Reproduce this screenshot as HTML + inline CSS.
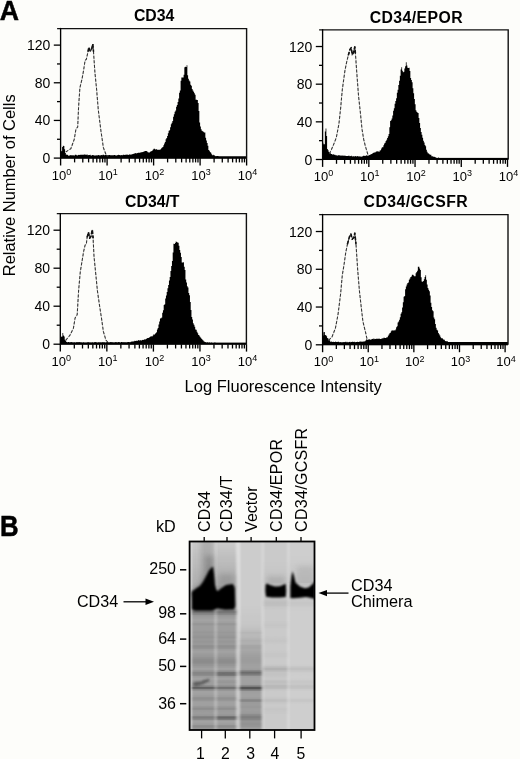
<!DOCTYPE html>
<html><head><meta charset="utf-8"><style>
html,body{margin:0;padding:0;background:#fdfdfa;}
body{width:520px;height:759px;position:relative;overflow:hidden;font-family:"Liberation Sans", sans-serif;}
</style></head><body>
<svg width="520" height="759" viewBox="0 0 520 759" style="position:absolute;left:0;top:0;will-change:transform">
<defs><filter id="b1" x="-50%" y="-50%" width="200%" height="200%"><feGaussianBlur stdDeviation="1.2"/></filter><filter id="b2" x="-50%" y="-50%" width="200%" height="200%"><feGaussianBlur stdDeviation="2.5"/></filter><filter id="b3" x="-50%" y="-50%" width="200%" height="200%"><feGaussianBlur stdDeviation="0.6"/></filter><filter id="b4" x="-50%" y="-50%" width="200%" height="200%"><feGaussianBlur stdDeviation="1.0"/></filter></defs>
<text transform="translate(-0.2,19.8) scale(0.97,1.02)" font-size="27.5" font-weight="bold" stroke="#000" stroke-width="0.5" font-family='"Liberation Sans", sans-serif' fill="#000">A</text>
<text transform="translate(0,536.2) scale(0.92,1.03)" font-size="28" font-weight="bold" stroke="#000" stroke-width="0.5" font-family='"Liberation Sans", sans-serif' fill="#000">B</text>
<g><path d="M60.6 158.4 L60.6 150.68 L61.35 150.68 L61.35 151.16 L62.1 151.16 L62.1 146.98 L62.85 146.98 L62.85 145.83 L63.6 145.83 L63.6 145.99 L64.35 145.99 L64.35 149.35 L65.1 149.35 L65.1 153.06 L65.85 153.06 L65.85 154.63 L66.6 154.63 L66.6 154.56 L67.35 154.56 L67.35 155 L68.1 155 L68.1 155.71 L68.85 155.71 L68.85 155.38 L69.6 155.38 L69.6 155.59 L70.35 155.59 L70.35 155.01 L71.1 155.01 L71.1 155.3 L71.85 155.3 L71.85 155.46 L72.6 155.46 L72.6 155.08 L73.35 155.08 L73.35 155.56 L74.1 155.56 L74.1 155.5 L74.85 155.5 L74.85 154.84 L75.6 154.84 L75.6 154.8 L76.35 154.8 L76.35 155.15 L77.1 155.15 L77.1 155.4 L77.85 155.4 L77.85 154.97 L78.6 154.97 L78.6 154.82 L79.35 154.82 L79.35 154.94 L80.1 154.94 L80.1 154.63 L80.85 154.63 L80.85 154.74 L81.6 154.74 L81.6 154.86 L82.35 154.86 L82.35 154.87 L83.1 154.87 L83.1 154.65 L83.85 154.65 L83.85 154.62 L84.6 154.62 L84.6 154.6 L85.35 154.6 L85.35 154.79 L86.1 154.79 L86.1 154.7 L86.85 154.7 L86.85 154.55 L87.6 154.55 L87.6 155.17 L88.35 155.17 L88.35 155.01 L89.1 155.01 L89.1 155.11 L89.85 155.11 L89.85 154.81 L90.6 154.81 L90.6 155.44 L91.35 155.44 L91.35 155.38 L92.1 155.38 L92.1 154.88 L92.85 154.88 L92.85 155.07 L93.6 155.07 L93.6 155.39 L94.35 155.39 L94.35 155.42 L95.1 155.42 L95.1 155.59 L95.85 155.59 L95.85 155.2 L96.6 155.2 L96.6 155.47 L97.35 155.47 L97.35 155.33 L98.1 155.33 L98.1 155.04 L98.85 155.04 L98.85 155.22 L99.6 155.22 L99.6 155.41 L100.35 155.41 L100.35 155.36 L101.1 155.36 L101.1 155.1 L101.85 155.1 L101.85 155.14 L102.6 155.14 L102.6 154.72 L103.35 154.72 L103.35 154.84 L104.1 154.84 L104.1 155.22 L104.85 155.22 L104.85 154.94 L105.6 154.94 L105.6 154.78 L106.35 154.78 L106.35 155.08 L107.1 155.08 L107.1 155.21 L107.85 155.21 L107.85 155.21 L108.6 155.21 L108.6 155.02 L109.35 155.02 L109.35 155.09 L110.1 155.09 L110.1 155.16 L110.85 155.16 L110.85 155.37 L111.6 155.37 L111.6 155.21 L112.35 155.21 L112.35 155.14 L113.1 155.14 L113.1 155.24 L113.85 155.24 L113.85 154.93 L114.6 154.93 L114.6 154.96 L115.35 154.96 L115.35 155.39 L116.1 155.39 L116.1 155.56 L116.85 155.56 L116.85 155.24 L117.6 155.24 L117.6 155.06 L118.35 155.06 L118.35 154.86 L119.1 154.86 L119.1 155.06 L119.85 155.06 L119.85 155.37 L120.6 155.37 L120.6 155.18 L121.35 155.18 L121.35 154.97 L122.1 154.97 L122.1 155.17 L122.85 155.17 L122.85 154.68 L123.6 154.68 L123.6 154.84 L124.35 154.84 L124.35 155.12 L125.1 155.12 L125.1 154.81 L125.85 154.81 L125.85 154.67 L126.6 154.67 L126.6 154.49 L127.35 154.49 L127.35 154.65 L128.1 154.65 L128.1 154.9 L128.85 154.9 L128.85 154.16 L129.6 154.16 L129.6 154.65 L130.35 154.65 L130.35 154.54 L131.1 154.54 L131.1 154.44 L131.85 154.44 L131.85 154.17 L132.6 154.17 L132.6 154.08 L133.35 154.08 L133.35 153.69 L134.1 153.69 L134.1 153.58 L134.85 153.58 L134.85 153.35 L135.6 153.35 L135.6 152.94 L136.35 152.94 L136.35 153.45 L137.1 153.45 L137.1 153.1 L137.85 153.1 L137.85 152.69 L138.6 152.69 L138.6 152.81 L139.35 152.81 L139.35 152.66 L140.1 152.66 L140.1 152.38 L140.85 152.38 L140.85 152.19 L141.6 152.19 L141.6 152.16 L142.35 152.16 L142.35 152.05 L143.1 152.05 L143.1 151.86 L143.85 151.86 L143.85 151.55 L144.6 151.55 L144.6 151.02 L145.35 151.02 L145.35 151 L146.1 151 L146.1 150.93 L146.85 150.93 L146.85 151.61 L147.6 151.61 L147.6 152.24 L148.35 152.24 L148.35 152.56 L149.1 152.56 L149.1 152.56 L149.85 152.56 L149.85 152.12 L150.6 152.12 L150.6 151.06 L151.35 151.06 L151.35 151.17 L152.1 151.17 L152.1 150.51 L152.85 150.51 L152.85 149.42 L153.6 149.42 L153.6 148.87 L154.35 148.87 L154.35 148.87 L155.1 148.87 L155.1 149.52 L155.85 149.52 L155.85 149.27 L156.6 149.27 L156.6 149.33 L157.35 149.33 L157.35 149.91 L158.1 149.91 L158.1 149.85 L158.85 149.85 L158.85 149.8 L159.6 149.8 L159.6 149.75 L160.35 149.75 L160.35 149.33 L161.1 149.33 L161.1 148.15 L161.85 148.15 L161.85 147.53 L162.6 147.53 L162.6 147.09 L163.35 147.09 L163.35 145.22 L164.1 145.22 L164.1 143.5 L164.85 143.5 L164.85 142.11 L165.6 142.11 L165.6 139.16 L166.35 139.16 L166.35 137.89 L167.1 137.89 L167.1 135.89 L167.85 135.89 L167.85 133.15 L168.6 133.15 L168.6 130.75 L169.35 130.75 L169.35 130.25 L170.1 130.25 L170.1 127.17 L170.85 127.17 L170.85 124.2 L171.6 124.2 L171.6 122.78 L172.35 122.78 L172.35 120.95 L173.1 120.95 L173.1 116.85 L173.85 116.85 L173.85 114.14 L174.6 114.14 L174.6 111.84 L175.35 111.84 L175.35 110.62 L176.1 110.62 L176.1 106.64 L176.85 106.64 L176.85 105.05 L177.6 105.05 L177.6 101.98 L178.35 101.98 L178.35 98.62 L179.1 98.62 L179.1 92.68 L179.85 92.68 L179.85 90.41 L180.6 90.41 L180.6 80.7 L181.35 80.7 L181.35 77.54 L182.1 77.54 L182.1 77.38 L182.85 77.38 L182.85 77.6 L183.6 77.6 L183.6 74.75 L184.35 74.75 L184.35 67.28 L185.1 67.28 L185.1 66.87 L185.85 66.87 L185.85 67.09 L186.6 67.09 L186.6 65.37 L187.35 65.37 L187.35 75.28 L188.1 75.28 L188.1 78.64 L188.85 78.64 L188.85 80.52 L189.6 80.52 L189.6 81.45 L190.35 81.45 L190.35 84.77 L191.1 84.77 L191.1 85.77 L191.85 85.77 L191.85 89.02 L192.6 89.02 L192.6 90.51 L193.35 90.51 L193.35 91.73 L194.1 91.73 L194.1 93.22 L194.85 93.22 L194.85 94.67 L195.6 94.67 L195.6 99.69 L196.35 99.69 L196.35 99.67 L197.1 99.67 L197.1 100.09 L197.85 100.09 L197.85 103.04 L198.6 103.04 L198.6 111.05 L199.35 111.05 L199.35 122.42 L200.1 122.42 L200.1 126.59 L200.85 126.59 L200.85 129.27 L201.6 129.27 L201.6 130.74 L202.35 130.74 L202.35 131.26 L203.1 131.26 L203.1 131.85 L203.85 131.85 L203.85 132.57 L204.6 132.57 L204.6 132.59 L205.35 132.59 L205.35 137.65 L206.1 137.65 L206.1 140.53 L206.85 140.53 L206.85 142.97 L207.6 142.97 L207.6 145.73 L208.35 145.73 L208.35 150.06 L209.1 150.06 L209.1 150.86 L209.85 150.86 L209.85 152.03 L210.6 152.03 L210.6 152.71 L211.35 152.71 L211.35 154.34 L212.1 154.34 L212.1 155.15 L212.85 155.15 L212.85 154.76 L213.6 154.76 L213.6 155.16 L214.35 155.16 L214.35 155.51 L215.1 155.51 L215.1 156.28 L215.85 156.28 L215.85 156.22 L216.6 156.22 L216.6 155.94 L217.35 155.94 L217.35 155.88 L218.1 155.88 L218.1 156.24 L218.85 156.24 L218.85 156.39 L219.6 156.39 L219.6 156.49 L220 156.49 L246.6 156.49 L246.6 158.4 Z" fill="#000"/><rect x="60.6" y="156.5" width="186" height="2.1" fill="#000"/><path d="M65.7 152 L70.9 148.6 L74.3 139.1 L76 128.9 L77.7 127.1 L78.6 106.6 L79.9 87.7 L82 79.1 L83.7 69.7 L85.1 60.3 L86.3 59.4 L88 51.7 L88.9 47.4 L90.2 50.9 L91.4 50 L92.8 44 L93.5 51.7 L94.9 72.3 L96.6 89.4 L98.3 110 L100.9 130.6 L103.4 147.7 L106 154.6 L107.7 156.3" fill="none" stroke="#888" stroke-width="0.8" opacity="0.5"/><path d="M65.7 152 L70.9 148.6 L74.3 139.1 L76 128.9 L77.7 127.1 L78.6 106.6 L79.9 87.7 L82 79.1 L83.7 69.7 L85.1 60.3 L86.3 59.4 L88 51.7 L88.9 47.4 L90.2 50.9 L91.4 50 L92.8 44 L93.5 51.7 L94.9 72.3 L96.6 89.4 L98.3 110 L100.9 130.6 L103.4 147.7 L106 154.6 L107.7 156.3" fill="none" stroke="#333" stroke-width="1.05" stroke-dasharray="3 1.6"/><path d="M88 51.7 L88.9 47.4 L90.2 50.9 L91.4 50 L92.8 44 L93.5 51.7" fill="none" stroke="#111" stroke-width="1.6" stroke-dasharray="3.5 1.8" stroke-linejoin="round"/><path d="M57.1 28.6 H246.6 V158.1" fill="none" stroke="#111" stroke-width="1.4"/><path d="M60.6 27.9 V158.6" fill="none" stroke="#000" stroke-width="1.35"/><path d="M53.8 158.1 H60.6" stroke="#000" stroke-width="1.3"/><text x="50.4" y="163.1" font-size="14" text-anchor="end" font-family='"Liberation Sans", sans-serif' fill="#000">0</text><path d="M57 139.27 H60.6" stroke="#000" stroke-width="1.3"/><path d="M53.8 120.44 H60.6" stroke="#000" stroke-width="1.3"/><text x="50.4" y="125.44" font-size="14" text-anchor="end" font-family='"Liberation Sans", sans-serif' fill="#000">40</text><path d="M57 101.61 H60.6" stroke="#000" stroke-width="1.3"/><path d="M53.8 82.78 H60.6" stroke="#000" stroke-width="1.3"/><text x="50.4" y="87.78" font-size="14" text-anchor="end" font-family='"Liberation Sans", sans-serif' fill="#000">80</text><path d="M57 63.95 H60.6" stroke="#000" stroke-width="1.3"/><path d="M53.8 45.12 H60.6" stroke="#000" stroke-width="1.3"/><text x="50.4" y="50.12" font-size="14" text-anchor="end" font-family='"Liberation Sans", sans-serif' fill="#000">120</text><path d="M60.6 158.1 V165.5" stroke="#000" stroke-width="1.35"/><path d="M74.6 158.1 V162.4" stroke="#000" stroke-width="1.3"/><path d="M82.79 158.1 V162.4" stroke="#000" stroke-width="1.3"/><path d="M88.6 158.1 V162.4" stroke="#000" stroke-width="1.3"/><path d="M93.1 158.1 V162.4" stroke="#000" stroke-width="1.3"/><path d="M96.78 158.1 V162.4" stroke="#000" stroke-width="1.3"/><path d="M99.9 158.1 V162.4" stroke="#000" stroke-width="1.3"/><path d="M102.59 158.1 V162.4" stroke="#000" stroke-width="1.3"/><path d="M104.97 158.1 V162.4" stroke="#000" stroke-width="1.3"/><text x="61.6" y="179.6" font-size="13" text-anchor="middle" font-family='"Liberation Sans", sans-serif' fill="#000">10<tspan font-size="9" dy="-4.6">0</tspan></text><path d="M107.1 158.1 V165.5" stroke="#000" stroke-width="1.35"/><path d="M121.1 158.1 V162.4" stroke="#000" stroke-width="1.3"/><path d="M129.29 158.1 V162.4" stroke="#000" stroke-width="1.3"/><path d="M135.1 158.1 V162.4" stroke="#000" stroke-width="1.3"/><path d="M139.6 158.1 V162.4" stroke="#000" stroke-width="1.3"/><path d="M143.28 158.1 V162.4" stroke="#000" stroke-width="1.3"/><path d="M146.4 158.1 V162.4" stroke="#000" stroke-width="1.3"/><path d="M149.09 158.1 V162.4" stroke="#000" stroke-width="1.3"/><path d="M151.47 158.1 V162.4" stroke="#000" stroke-width="1.3"/><text x="108.1" y="179.6" font-size="13" text-anchor="middle" font-family='"Liberation Sans", sans-serif' fill="#000">10<tspan font-size="9" dy="-4.6">1</tspan></text><path d="M153.6 158.1 V165.5" stroke="#000" stroke-width="1.35"/><path d="M167.6 158.1 V162.4" stroke="#000" stroke-width="1.3"/><path d="M175.79 158.1 V162.4" stroke="#000" stroke-width="1.3"/><path d="M181.6 158.1 V162.4" stroke="#000" stroke-width="1.3"/><path d="M186.1 158.1 V162.4" stroke="#000" stroke-width="1.3"/><path d="M189.78 158.1 V162.4" stroke="#000" stroke-width="1.3"/><path d="M192.9 158.1 V162.4" stroke="#000" stroke-width="1.3"/><path d="M195.59 158.1 V162.4" stroke="#000" stroke-width="1.3"/><path d="M197.97 158.1 V162.4" stroke="#000" stroke-width="1.3"/><text x="154.6" y="179.6" font-size="13" text-anchor="middle" font-family='"Liberation Sans", sans-serif' fill="#000">10<tspan font-size="9" dy="-4.6">2</tspan></text><path d="M200.1 158.1 V165.5" stroke="#000" stroke-width="1.35"/><path d="M214.1 158.1 V162.4" stroke="#000" stroke-width="1.3"/><path d="M222.29 158.1 V162.4" stroke="#000" stroke-width="1.3"/><path d="M228.1 158.1 V162.4" stroke="#000" stroke-width="1.3"/><path d="M232.6 158.1 V162.4" stroke="#000" stroke-width="1.3"/><path d="M236.28 158.1 V162.4" stroke="#000" stroke-width="1.3"/><path d="M239.4 158.1 V162.4" stroke="#000" stroke-width="1.3"/><path d="M242.09 158.1 V162.4" stroke="#000" stroke-width="1.3"/><path d="M244.47 158.1 V162.4" stroke="#000" stroke-width="1.3"/><text x="201.1" y="179.6" font-size="13" text-anchor="middle" font-family='"Liberation Sans", sans-serif' fill="#000">10<tspan font-size="9" dy="-4.6">3</tspan></text><path d="M246.6 158.1 V165.5" stroke="#000" stroke-width="1.35"/><text x="247.6" y="179.6" font-size="13" text-anchor="middle" font-family='"Liberation Sans", sans-serif' fill="#000">10<tspan font-size="9" dy="-4.6">4</tspan></text><text x="154.1" y="21.2" font-size="15.8" font-weight="bold" text-anchor="middle" letter-spacing="0" font-family='"Liberation Sans", sans-serif' fill="#000">CD34</text></g>
<g><path d="M322.6 159.8 L322.6 142.84 L323.35 142.84 L323.35 144.17 L324.1 144.17 L324.1 144.22 L324.85 144.22 L324.85 131.61 L325.6 131.61 L325.6 128.52 L326.35 128.52 L326.35 136.07 L327.1 136.07 L327.1 148.94 L327.85 148.94 L327.85 150.14 L328.6 150.14 L328.6 152.02 L329.35 152.02 L329.35 152.72 L330.1 152.72 L330.1 153.27 L330.85 153.27 L330.85 153.88 L331.6 153.88 L331.6 153.93 L332.35 153.93 L332.35 154.72 L333.1 154.72 L333.1 154.33 L333.85 154.33 L333.85 154.7 L334.6 154.7 L334.6 154.79 L335.35 154.79 L335.35 155.15 L336.1 155.15 L336.1 155.28 L336.85 155.28 L336.85 155.66 L337.6 155.66 L337.6 155.32 L338.35 155.32 L338.35 155.16 L339.1 155.16 L339.1 155.29 L339.85 155.29 L339.85 155.85 L340.6 155.85 L340.6 155.21 L341.35 155.21 L341.35 155.65 L342.1 155.65 L342.1 155.52 L342.85 155.52 L342.85 155.76 L343.6 155.76 L343.6 155.56 L344.35 155.56 L344.35 155.86 L345.1 155.86 L345.1 155.75 L345.85 155.75 L345.85 155.9 L346.6 155.9 L346.6 156.12 L347.35 156.12 L347.35 155.93 L348.1 155.93 L348.1 155.65 L348.85 155.65 L348.85 155.63 L349.6 155.63 L349.6 156.3 L350.35 156.3 L350.35 156.01 L351.1 156.01 L351.1 155.83 L351.85 155.83 L351.85 156.42 L352.6 156.42 L352.6 156.19 L353.35 156.19 L353.35 156.33 L354.1 156.33 L354.1 156.48 L354.85 156.48 L354.85 156.09 L355.6 156.09 L355.6 156.18 L356.35 156.18 L356.35 156.59 L357.1 156.59 L357.1 156.09 L357.85 156.09 L357.85 156.58 L358.6 156.58 L358.6 156.14 L359.35 156.14 L359.35 156.6 L360.1 156.6 L360.1 156.56 L360.85 156.56 L360.85 156.66 L361.6 156.66 L361.6 156.49 L362.35 156.49 L362.35 156.15 L363.1 156.15 L363.1 155.84 L363.85 155.84 L363.85 155.72 L364.6 155.72 L364.6 155.92 L365.35 155.92 L365.35 155.82 L366.1 155.82 L366.1 155.35 L366.85 155.35 L366.85 155.87 L367.6 155.87 L367.6 155.43 L368.35 155.43 L368.35 155.45 L369.1 155.45 L369.1 154.94 L369.85 154.94 L369.85 154.83 L370.6 154.83 L370.6 154.16 L371.35 154.16 L371.35 153.96 L372.1 153.96 L372.1 153.38 L372.85 153.38 L372.85 153.03 L373.6 153.03 L373.6 152.48 L374.35 152.48 L374.35 152.45 L375.1 152.45 L375.1 152.18 L375.85 152.18 L375.85 151.47 L376.6 151.47 L376.6 151.52 L377.35 151.52 L377.35 151.23 L378.1 151.23 L378.1 151.5 L378.85 151.5 L378.85 151.63 L379.6 151.63 L379.6 150.45 L380.35 150.45 L380.35 150.17 L381.1 150.17 L381.1 148.61 L381.85 148.61 L381.85 147.28 L382.6 147.28 L382.6 147.22 L383.35 147.22 L383.35 145.23 L384.1 145.23 L384.1 143.59 L384.85 143.59 L384.85 142.66 L385.6 142.66 L385.6 140.97 L386.35 140.97 L386.35 139.78 L387.1 139.78 L387.1 138.07 L387.85 138.07 L387.85 136.25 L388.6 136.25 L388.6 134.06 L389.35 134.06 L389.35 127.3 L390.1 127.3 L390.1 121.1 L390.85 121.1 L390.85 120.33 L391.6 120.33 L391.6 118.61 L392.35 118.61 L392.35 115.39 L393.1 115.39 L393.1 110.84 L393.85 110.84 L393.85 108.34 L394.6 108.34 L394.6 103.79 L395.35 103.79 L395.35 100.89 L396.1 100.89 L396.1 98.2 L396.85 98.2 L396.85 92.68 L397.6 92.68 L397.6 89.71 L398.35 89.71 L398.35 84.97 L399.1 84.97 L399.1 80.75 L399.85 80.75 L399.85 75.67 L400.6 75.67 L400.6 69.55 L401.35 69.55 L401.35 67.24 L402.1 67.24 L402.1 70.85 L402.85 70.85 L402.85 72.15 L403.6 72.15 L403.6 71.87 L404.35 71.87 L404.35 68.6 L405.1 68.6 L405.1 66.15 L405.85 66.15 L405.85 62.34 L406.6 62.34 L406.6 65.6 L407.35 65.6 L407.35 67.72 L408.1 67.72 L408.1 68.01 L408.85 68.01 L408.85 67.66 L409.6 67.66 L409.6 71.02 L410.35 71.02 L410.35 78.08 L411.1 78.08 L411.1 79.99 L411.85 79.99 L411.85 82.21 L412.6 82.21 L412.6 88.33 L413.35 88.33 L413.35 93.28 L414.1 93.28 L414.1 99.01 L414.85 99.01 L414.85 104.34 L415.6 104.34 L415.6 110.15 L416.35 110.15 L416.35 111.79 L417.1 111.79 L417.1 112.61 L417.85 112.61 L417.85 113.05 L418.6 113.05 L418.6 117.91 L419.35 117.91 L419.35 123.04 L420.1 123.04 L420.1 128.02 L420.85 128.02 L420.85 132.02 L421.6 132.02 L421.6 134.85 L422.35 134.85 L422.35 137.79 L423.1 137.79 L423.1 140.64 L423.85 140.64 L423.85 142.58 L424.6 142.58 L424.6 145.07 L425.35 145.07 L425.35 146.37 L426.1 146.37 L426.1 149.65 L426.85 149.65 L426.85 151.64 L427.6 151.64 L427.6 153.36 L428.35 153.36 L428.35 153.41 L429.1 153.41 L429.1 154.21 L429.85 154.21 L429.85 154.73 L430.6 154.73 L430.6 154.85 L431.35 154.85 L431.35 156.15 L432.1 156.15 L432.1 156.31 L432.85 156.31 L432.85 156.43 L433.6 156.43 L433.6 156.96 L434.35 156.96 L434.35 156.84 L435.1 156.84 L435.1 157.24 L435.85 157.24 L435.85 157.66 L436.6 157.66 L436.6 157.89 L437.35 157.89 L437.35 157.88 L438.1 157.88 L438.1 157.47 L438.85 157.47 L438.85 157.98 L439.6 157.98 L439.6 158.27 L440 158.27 L508.2 158.27 L508.2 159.8 Z" fill="#000"/><rect x="322.6" y="157.9" width="185.6" height="2.1" fill="#000"/><path d="M329.4 154 L332.9 146.3 L336.3 137.7 L338.9 124 L340.6 108.6 L342.3 89.7 L344.9 70.9 L346.6 62.3 L348.3 55.4 L350 49.4 L351.2 47.7 L352.2 54.6 L353.4 52.9 L354.8 46.9 L355.5 54.6 L356.9 74.3 L358.6 96.6 L360.3 112 L362 129.1 L363.7 139.4 L365.4 146.3 L368 154.9" fill="none" stroke="#888" stroke-width="0.8" opacity="0.5"/><path d="M329.4 154 L332.9 146.3 L336.3 137.7 L338.9 124 L340.6 108.6 L342.3 89.7 L344.9 70.9 L346.6 62.3 L348.3 55.4 L350 49.4 L351.2 47.7 L352.2 54.6 L353.4 52.9 L354.8 46.9 L355.5 54.6 L356.9 74.3 L358.6 96.6 L360.3 112 L362 129.1 L363.7 139.4 L365.4 146.3 L368 154.9" fill="none" stroke="#333" stroke-width="1.05" stroke-dasharray="3 1.6"/><path d="M348.3 55.4 L350 49.4 L351.2 47.7 L352.2 54.6 L353.4 52.9 L354.8 46.9 L355.5 54.6" fill="none" stroke="#111" stroke-width="1.6" stroke-dasharray="3.5 1.8" stroke-linejoin="round"/><path d="M319.1 29.9 H508.2 V159.5" fill="none" stroke="#111" stroke-width="1.4"/><path d="M322.6 29.2 V160" fill="none" stroke="#000" stroke-width="1.35"/><path d="M315.8 159.5 H322.6" stroke="#000" stroke-width="1.3"/><text x="312.4" y="164.5" font-size="14" text-anchor="end" font-family='"Liberation Sans", sans-serif' fill="#000">0</text><path d="M319 140.67 H322.6" stroke="#000" stroke-width="1.3"/><path d="M315.8 121.84 H322.6" stroke="#000" stroke-width="1.3"/><text x="312.4" y="126.84" font-size="14" text-anchor="end" font-family='"Liberation Sans", sans-serif' fill="#000">40</text><path d="M319 103.01 H322.6" stroke="#000" stroke-width="1.3"/><path d="M315.8 84.18 H322.6" stroke="#000" stroke-width="1.3"/><text x="312.4" y="89.18" font-size="14" text-anchor="end" font-family='"Liberation Sans", sans-serif' fill="#000">80</text><path d="M319 65.35 H322.6" stroke="#000" stroke-width="1.3"/><path d="M315.8 46.52 H322.6" stroke="#000" stroke-width="1.3"/><text x="312.4" y="51.52" font-size="14" text-anchor="end" font-family='"Liberation Sans", sans-serif' fill="#000">120</text><path d="M322.6 159.5 V166.9" stroke="#000" stroke-width="1.35"/><path d="M336.52 159.5 V163.8" stroke="#000" stroke-width="1.3"/><path d="M344.65 159.5 V163.8" stroke="#000" stroke-width="1.3"/><path d="M350.43 159.5 V163.8" stroke="#000" stroke-width="1.3"/><path d="M354.91 159.5 V163.8" stroke="#000" stroke-width="1.3"/><path d="M358.57 159.5 V163.8" stroke="#000" stroke-width="1.3"/><path d="M361.66 159.5 V163.8" stroke="#000" stroke-width="1.3"/><path d="M364.35 159.5 V163.8" stroke="#000" stroke-width="1.3"/><path d="M366.71 159.5 V163.8" stroke="#000" stroke-width="1.3"/><text x="323.6" y="181" font-size="13" text-anchor="middle" font-family='"Liberation Sans", sans-serif' fill="#000">10<tspan font-size="9" dy="-4.6">0</tspan></text><path d="M368.83 159.5 V166.9" stroke="#000" stroke-width="1.35"/><path d="M382.74 159.5 V163.8" stroke="#000" stroke-width="1.3"/><path d="M390.88 159.5 V163.8" stroke="#000" stroke-width="1.3"/><path d="M396.66 159.5 V163.8" stroke="#000" stroke-width="1.3"/><path d="M401.13 159.5 V163.8" stroke="#000" stroke-width="1.3"/><path d="M404.8 159.5 V163.8" stroke="#000" stroke-width="1.3"/><path d="M407.89 159.5 V163.8" stroke="#000" stroke-width="1.3"/><path d="M410.57 159.5 V163.8" stroke="#000" stroke-width="1.3"/><path d="M412.93 159.5 V163.8" stroke="#000" stroke-width="1.3"/><text x="369.83" y="181" font-size="13" text-anchor="middle" font-family='"Liberation Sans", sans-serif' fill="#000">10<tspan font-size="9" dy="-4.6">1</tspan></text><path d="M415.05 159.5 V166.9" stroke="#000" stroke-width="1.35"/><path d="M428.97 159.5 V163.8" stroke="#000" stroke-width="1.3"/><path d="M437.1 159.5 V163.8" stroke="#000" stroke-width="1.3"/><path d="M442.88 159.5 V163.8" stroke="#000" stroke-width="1.3"/><path d="M447.36 159.5 V163.8" stroke="#000" stroke-width="1.3"/><path d="M451.02 159.5 V163.8" stroke="#000" stroke-width="1.3"/><path d="M454.11 159.5 V163.8" stroke="#000" stroke-width="1.3"/><path d="M456.8 159.5 V163.8" stroke="#000" stroke-width="1.3"/><path d="M459.16 159.5 V163.8" stroke="#000" stroke-width="1.3"/><text x="416.05" y="181" font-size="13" text-anchor="middle" font-family='"Liberation Sans", sans-serif' fill="#000">10<tspan font-size="9" dy="-4.6">2</tspan></text><path d="M461.27 159.5 V166.9" stroke="#000" stroke-width="1.35"/><path d="M475.19 159.5 V163.8" stroke="#000" stroke-width="1.3"/><path d="M483.33 159.5 V163.8" stroke="#000" stroke-width="1.3"/><path d="M489.11 159.5 V163.8" stroke="#000" stroke-width="1.3"/><path d="M493.58 159.5 V163.8" stroke="#000" stroke-width="1.3"/><path d="M497.25 159.5 V163.8" stroke="#000" stroke-width="1.3"/><path d="M500.34 159.5 V163.8" stroke="#000" stroke-width="1.3"/><path d="M503.02 159.5 V163.8" stroke="#000" stroke-width="1.3"/><path d="M505.38 159.5 V163.8" stroke="#000" stroke-width="1.3"/><text x="462.27" y="181" font-size="13" text-anchor="middle" font-family='"Liberation Sans", sans-serif' fill="#000">10<tspan font-size="9" dy="-4.6">3</tspan></text><path d="M507.5 159.5 V166.9" stroke="#000" stroke-width="1.35"/><text x="508.5" y="181" font-size="13" text-anchor="middle" font-family='"Liberation Sans", sans-serif' fill="#000">10<tspan font-size="9" dy="-4.6">4</tspan></text><text x="416.31" y="22.8" font-size="15.8" font-weight="bold" text-anchor="middle" letter-spacing="0.42" font-family='"Liberation Sans", sans-serif' fill="#000">CD34/EPOR</text></g>
<g><path d="M60.3 344.5 L60.2 340.13 L60.95 340.13 L60.95 336.71 L61.7 336.71 L61.7 336.5 L62.45 336.5 L62.45 333.04 L63.2 333.04 L63.2 335.38 L63.95 335.38 L63.95 336.43 L64.7 336.43 L64.7 339.86 L65.45 339.86 L65.45 340.85 L66.2 340.85 L66.2 341.95 L66.95 341.95 L66.95 342.41 L67.7 342.41 L67.7 341.91 L68.45 341.91 L68.45 342.05 L69.2 342.05 L69.2 342.39 L69.95 342.39 L69.95 342.14 L70.7 342.14 L70.7 342.14 L71.45 342.14 L71.45 342.12 L72.2 342.12 L72.2 342.57 L72.95 342.57 L72.95 342.59 L73.7 342.59 L73.7 342.55 L74.45 342.55 L74.45 342.15 L75.2 342.15 L75.2 342.65 L75.95 342.65 L75.95 342.37 L76.7 342.37 L76.7 342.18 L77.45 342.18 L77.45 342.34 L78.2 342.34 L78.2 342.33 L78.95 342.33 L78.95 342.09 L79.7 342.09 L79.7 342.44 L80.45 342.44 L80.45 342.31 L81.2 342.31 L81.2 342.46 L81.95 342.46 L81.95 342.72 L82.7 342.72 L82.7 342.53 L83.45 342.53 L83.45 342.37 L84.2 342.37 L84.2 342.7 L84.95 342.7 L84.95 342.8 L85.7 342.8 L85.7 342.45 L86.45 342.45 L86.45 342.78 L87.2 342.78 L87.2 342.13 L87.95 342.13 L87.95 342.23 L88.7 342.23 L88.7 342.26 L89.45 342.26 L89.45 342.8 L90.2 342.8 L90.2 342.62 L90.95 342.62 L90.95 342.64 L91.7 342.64 L91.7 342.33 L92.45 342.33 L92.45 342.46 L93.2 342.46 L93.2 342.73 L93.95 342.73 L93.95 342.17 L94.7 342.17 L94.7 342.17 L95.45 342.17 L95.45 342.12 L96.2 342.12 L96.2 342.41 L96.95 342.41 L96.95 342.66 L97.7 342.66 L97.7 342.45 L98.45 342.45 L98.45 342.34 L99.2 342.34 L99.2 342.4 L99.95 342.4 L99.95 342.17 L100.7 342.17 L100.7 342.7 L101.45 342.7 L101.45 342.27 L102.2 342.27 L102.2 342.18 L102.95 342.18 L102.95 342.23 L103.7 342.23 L103.7 342.58 L104.45 342.58 L104.45 342.22 L105.2 342.22 L105.2 342.63 L105.95 342.63 L105.95 342.22 L106.7 342.22 L106.7 342.28 L107.45 342.28 L107.45 342.02 L108.2 342.02 L108.2 342.6 L108.95 342.6 L108.95 342.51 L109.7 342.51 L109.7 342.28 L110.45 342.28 L110.45 342.03 L111.2 342.03 L111.2 342.29 L111.95 342.29 L111.95 342.21 L112.7 342.21 L112.7 342.54 L113.45 342.54 L113.45 342.6 L114.2 342.6 L114.2 342.47 L114.95 342.47 L114.95 342.15 L115.7 342.15 L115.7 341.98 L116.45 341.98 L116.45 342.58 L117.2 342.58 L117.2 342.61 L117.95 342.61 L117.95 342.06 L118.7 342.06 L118.7 342.3 L119.45 342.3 L119.45 342.29 L120.2 342.29 L120.2 342.63 L120.95 342.63 L120.95 341.98 L121.7 341.98 L121.7 341.99 L122.45 341.99 L122.45 342.54 L123.2 342.54 L123.2 342.35 L123.95 342.35 L123.95 342.27 L124.7 342.27 L124.7 342.49 L125.45 342.49 L125.45 342.37 L126.2 342.37 L126.2 342.43 L126.95 342.43 L126.95 342.13 L127.7 342.13 L127.7 342.01 L128.45 342.01 L128.45 341.96 L129.2 341.96 L129.2 342.18 L129.95 342.18 L129.95 342.23 L130.7 342.23 L130.7 341.8 L131.45 341.8 L131.45 341.57 L132.2 341.57 L132.2 341.59 L132.95 341.59 L132.95 341.45 L133.7 341.45 L133.7 341.15 L134.45 341.15 L134.45 340.71 L135.2 340.71 L135.2 340.93 L135.95 340.93 L135.95 340.71 L136.7 340.71 L136.7 340.69 L137.45 340.69 L137.45 340.67 L138.2 340.67 L138.2 340.06 L138.95 340.06 L138.95 340.52 L139.7 340.52 L139.7 340.29 L140.45 340.29 L140.45 340.32 L141.2 340.32 L141.2 340.41 L141.95 340.41 L141.95 339.89 L142.7 339.89 L142.7 339.71 L143.45 339.71 L143.45 340.1 L144.2 340.1 L144.2 339.27 L144.95 339.27 L144.95 339.51 L145.7 339.51 L145.7 339.06 L146.45 339.06 L146.45 338.47 L147.2 338.47 L147.2 338.12 L147.95 338.12 L147.95 338.03 L148.7 338.03 L148.7 337.76 L149.45 337.76 L149.45 337.06 L150.2 337.06 L150.2 336.43 L150.95 336.43 L150.95 336.18 L151.7 336.18 L151.7 336.46 L152.45 336.46 L152.45 335.82 L153.2 335.82 L153.2 334.6 L153.95 334.6 L153.95 334.82 L154.7 334.82 L154.7 333.99 L155.45 333.99 L155.45 332.9 L156.2 332.9 L156.2 332.27 L156.95 332.27 L156.95 329.47 L157.7 329.47 L157.7 327.92 L158.45 327.92 L158.45 324.42 L159.2 324.42 L159.2 321.51 L159.95 321.51 L159.95 318.61 L160.7 318.61 L160.7 318.14 L161.45 318.14 L161.45 317.51 L162.2 317.51 L162.2 312.69 L162.95 312.69 L162.95 310.14 L163.7 310.14 L163.7 305.03 L164.45 305.03 L164.45 304.19 L165.2 304.19 L165.2 298.41 L165.95 298.41 L165.95 295.53 L166.7 295.53 L166.7 292.04 L167.45 292.04 L167.45 288.27 L168.2 288.27 L168.2 284.93 L168.95 284.93 L168.95 280.56 L169.7 280.56 L169.7 276.95 L170.45 276.95 L170.45 271.06 L171.2 271.06 L171.2 265.97 L171.95 265.97 L171.95 261.06 L172.7 261.06 L172.7 252.54 L173.45 252.54 L173.45 243.64 L174.2 243.64 L174.2 244.04 L174.95 244.04 L174.95 242.94 L175.7 242.94 L175.7 241.56 L176.45 241.56 L176.45 241.95 L177.2 241.95 L177.2 242.53 L177.95 242.53 L177.95 242.67 L178.7 242.67 L178.7 245.69 L179.45 245.69 L179.45 249.88 L180.2 249.88 L180.2 252.7 L180.95 252.7 L180.95 257.1 L181.7 257.1 L181.7 262.48 L182.45 262.48 L182.45 262.54 L183.2 262.54 L183.2 262.18 L183.95 262.18 L183.95 266.64 L184.7 266.64 L184.7 270.05 L185.45 270.05 L185.45 279.59 L186.2 279.59 L186.2 282.42 L186.95 282.42 L186.95 286.17 L187.7 286.17 L187.7 287.54 L188.45 287.54 L188.45 292.95 L189.2 292.95 L189.2 295.18 L189.95 295.18 L189.95 302.01 L190.7 302.01 L190.7 310.12 L191.45 310.12 L191.45 316.99 L192.2 316.99 L192.2 319.46 L192.95 319.46 L192.95 323.37 L193.7 323.37 L193.7 324.75 L194.45 324.75 L194.45 326.82 L195.2 326.82 L195.2 329.52 L195.95 329.52 L195.95 329.64 L196.7 329.64 L196.7 331.76 L197.45 331.76 L197.45 333.28 L198.2 333.28 L198.2 335.06 L198.95 335.06 L198.95 335.43 L199.7 335.43 L199.7 336.8 L200.45 336.8 L200.45 337.8 L201.2 337.8 L201.2 338.78 L201.95 338.78 L201.95 339.55 L202.7 339.55 L202.7 340.31 L203.45 340.31 L203.45 341.24 L204.2 341.24 L204.2 341.83 L204.95 341.83 L204.95 342.12 L205.7 342.12 L205.7 342.6 L206.45 342.6 L206.45 342.74 L207.2 342.74 L207.2 342.28 L207.95 342.28 L207.95 342.92 L208.7 342.92 L208.7 342.31 L209.45 342.31 L209.45 342.66 L210.2 342.66 L210.2 343.09 L210.95 343.09 L210.95 342.59 L211.7 342.59 L211.7 342.96 L212.45 342.96 L212.45 343.21 L213.2 343.21 L213.2 342.95 L213.95 342.95 L213.95 342.85 L214.7 342.85 L214.7 342.56 L215.45 342.56 L215.45 342.88 L216.2 342.88 L216.2 342.9 L216.95 342.9 L216.95 343.15 L217.7 343.15 L217.7 342.88 L218.45 342.88 L218.45 343.19 L219.2 343.19 L219.2 342.92 L219.95 342.92 L219.95 343.1 L220 343.1 L246.4 343.1 L246.4 344.5 Z" fill="#000"/><rect x="60.3" y="342.6" width="186.1" height="2.1" fill="#000"/><path d="M65.7 340.3 L70 335.1 L73.4 328.3 L75.1 318 L77.2 314.6 L78.6 290.6 L80.3 271.7 L82 261.4 L83.7 251.1 L85.1 245.1 L86.3 244.3 L87.1 237.4 L88.5 232.3 L89.7 238.3 L90.9 236.6 L92.3 229.7 L93.1 238.3 L94 256.3 L95.7 273.4 L97.4 290.6 L99.1 302.6 L101.7 319.7 L103.4 331.7 L106 340.3 L107.7 342" fill="none" stroke="#888" stroke-width="0.8" opacity="0.5"/><path d="M65.7 340.3 L70 335.1 L73.4 328.3 L75.1 318 L77.2 314.6 L78.6 290.6 L80.3 271.7 L82 261.4 L83.7 251.1 L85.1 245.1 L86.3 244.3 L87.1 237.4 L88.5 232.3 L89.7 238.3 L90.9 236.6 L92.3 229.7 L93.1 238.3 L94 256.3 L95.7 273.4 L97.4 290.6 L99.1 302.6 L101.7 319.7 L103.4 331.7 L106 340.3 L107.7 342" fill="none" stroke="#333" stroke-width="1.05" stroke-dasharray="3 1.6"/><path d="M87.1 237.4 L88.5 232.3 L89.7 238.3 L90.9 236.6 L92.3 229.7 L93.1 238.3" fill="none" stroke="#111" stroke-width="1.6" stroke-dasharray="3.5 1.8" stroke-linejoin="round"/><path d="M56.8 213.6 H246.4 V344.2" fill="none" stroke="#111" stroke-width="1.4"/><path d="M60.3 212.9 V344.7" fill="none" stroke="#000" stroke-width="1.35"/><path d="M53.5 344.2 H60.3" stroke="#000" stroke-width="1.3"/><text x="50.1" y="349.2" font-size="14" text-anchor="end" font-family='"Liberation Sans", sans-serif' fill="#000">0</text><path d="M56.7 325.2 H60.3" stroke="#000" stroke-width="1.3"/><path d="M53.5 306.2 H60.3" stroke="#000" stroke-width="1.3"/><text x="50.1" y="311.2" font-size="14" text-anchor="end" font-family='"Liberation Sans", sans-serif' fill="#000">40</text><path d="M56.7 287.2 H60.3" stroke="#000" stroke-width="1.3"/><path d="M53.5 268.2 H60.3" stroke="#000" stroke-width="1.3"/><text x="50.1" y="273.2" font-size="14" text-anchor="end" font-family='"Liberation Sans", sans-serif' fill="#000">80</text><path d="M56.7 249.2 H60.3" stroke="#000" stroke-width="1.3"/><path d="M53.5 230.2 H60.3" stroke="#000" stroke-width="1.3"/><text x="50.1" y="235.2" font-size="14" text-anchor="end" font-family='"Liberation Sans", sans-serif' fill="#000">120</text><path d="M60.3 344.2 V351.6" stroke="#000" stroke-width="1.35"/><path d="M74.31 344.2 V348.5" stroke="#000" stroke-width="1.3"/><path d="M82.51 344.2 V348.5" stroke="#000" stroke-width="1.3"/><path d="M88.33 344.2 V348.5" stroke="#000" stroke-width="1.3"/><path d="M92.84 344.2 V348.5" stroke="#000" stroke-width="1.3"/><path d="M96.52 344.2 V348.5" stroke="#000" stroke-width="1.3"/><path d="M99.64 344.2 V348.5" stroke="#000" stroke-width="1.3"/><path d="M102.34 344.2 V348.5" stroke="#000" stroke-width="1.3"/><path d="M104.72 344.2 V348.5" stroke="#000" stroke-width="1.3"/><text x="61.3" y="365.7" font-size="13" text-anchor="middle" font-family='"Liberation Sans", sans-serif' fill="#000">10<tspan font-size="9" dy="-4.6">0</tspan></text><path d="M106.85 344.2 V351.6" stroke="#000" stroke-width="1.35"/><path d="M120.86 344.2 V348.5" stroke="#000" stroke-width="1.3"/><path d="M129.06 344.2 V348.5" stroke="#000" stroke-width="1.3"/><path d="M134.88 344.2 V348.5" stroke="#000" stroke-width="1.3"/><path d="M139.39 344.2 V348.5" stroke="#000" stroke-width="1.3"/><path d="M143.07 344.2 V348.5" stroke="#000" stroke-width="1.3"/><path d="M146.19 344.2 V348.5" stroke="#000" stroke-width="1.3"/><path d="M148.89 344.2 V348.5" stroke="#000" stroke-width="1.3"/><path d="M151.27 344.2 V348.5" stroke="#000" stroke-width="1.3"/><text x="107.85" y="365.7" font-size="13" text-anchor="middle" font-family='"Liberation Sans", sans-serif' fill="#000">10<tspan font-size="9" dy="-4.6">1</tspan></text><path d="M153.4 344.2 V351.6" stroke="#000" stroke-width="1.35"/><path d="M167.41 344.2 V348.5" stroke="#000" stroke-width="1.3"/><path d="M175.61 344.2 V348.5" stroke="#000" stroke-width="1.3"/><path d="M181.43 344.2 V348.5" stroke="#000" stroke-width="1.3"/><path d="M185.94 344.2 V348.5" stroke="#000" stroke-width="1.3"/><path d="M189.62 344.2 V348.5" stroke="#000" stroke-width="1.3"/><path d="M192.74 344.2 V348.5" stroke="#000" stroke-width="1.3"/><path d="M195.44 344.2 V348.5" stroke="#000" stroke-width="1.3"/><path d="M197.82 344.2 V348.5" stroke="#000" stroke-width="1.3"/><text x="154.4" y="365.7" font-size="13" text-anchor="middle" font-family='"Liberation Sans", sans-serif' fill="#000">10<tspan font-size="9" dy="-4.6">2</tspan></text><path d="M199.95 344.2 V351.6" stroke="#000" stroke-width="1.35"/><path d="M213.96 344.2 V348.5" stroke="#000" stroke-width="1.3"/><path d="M222.16 344.2 V348.5" stroke="#000" stroke-width="1.3"/><path d="M227.98 344.2 V348.5" stroke="#000" stroke-width="1.3"/><path d="M232.49 344.2 V348.5" stroke="#000" stroke-width="1.3"/><path d="M236.17 344.2 V348.5" stroke="#000" stroke-width="1.3"/><path d="M239.29 344.2 V348.5" stroke="#000" stroke-width="1.3"/><path d="M241.99 344.2 V348.5" stroke="#000" stroke-width="1.3"/><path d="M244.37 344.2 V348.5" stroke="#000" stroke-width="1.3"/><text x="200.95" y="365.7" font-size="13" text-anchor="middle" font-family='"Liberation Sans", sans-serif' fill="#000">10<tspan font-size="9" dy="-4.6">3</tspan></text><path d="M246.5 344.2 V351.6" stroke="#000" stroke-width="1.35"/><text x="247.5" y="365.7" font-size="13" text-anchor="middle" font-family='"Liberation Sans", sans-serif' fill="#000">10<tspan font-size="9" dy="-4.6">4</tspan></text><text x="152.3" y="207.1" font-size="15.8" font-weight="bold" text-anchor="middle" letter-spacing="0" font-family='"Liberation Sans", sans-serif' fill="#000">CD34/T</text></g>
<g><path d="M322.6 345.1 L322.6 335.58 L323.35 335.58 L323.35 332.33 L324.1 332.33 L324.1 331.93 L324.85 331.93 L324.85 334.93 L325.6 334.93 L325.6 335.15 L326.35 335.15 L326.35 336.24 L327.1 336.24 L327.1 338.01 L327.85 338.01 L327.85 338.59 L328.6 338.59 L328.6 340.27 L329.35 340.27 L329.35 340.35 L330.1 340.35 L330.1 341.84 L330.85 341.84 L330.85 341.41 L331.6 341.41 L331.6 341.65 L332.35 341.65 L332.35 341.93 L333.1 341.93 L333.1 341.79 L333.85 341.79 L333.85 342 L334.6 342 L334.6 341.88 L335.35 341.88 L335.35 341.44 L336.1 341.44 L336.1 342.08 L336.85 342.08 L336.85 341.91 L337.6 341.91 L337.6 341.74 L338.35 341.74 L338.35 341.69 L339.1 341.69 L339.1 342.21 L339.85 342.21 L339.85 342.05 L340.6 342.05 L340.6 342.31 L341.35 342.31 L341.35 342.19 L342.1 342.19 L342.1 342.32 L342.85 342.32 L342.85 342.05 L343.6 342.05 L343.6 342.14 L344.35 342.14 L344.35 342.08 L345.1 342.08 L345.1 341.83 L345.85 341.83 L345.85 342.32 L346.6 342.32 L346.6 341.87 L347.35 341.87 L347.35 342.2 L348.1 342.2 L348.1 342.32 L348.85 342.32 L348.85 342.11 L349.6 342.11 L349.6 341.75 L350.35 341.75 L350.35 342.23 L351.1 342.23 L351.1 342.12 L351.85 342.12 L351.85 341.78 L352.6 341.78 L352.6 341.68 L353.35 341.68 L353.35 342.02 L354.1 342.02 L354.1 341.67 L354.85 341.67 L354.85 342.28 L355.6 342.28 L355.6 341.94 L356.35 341.94 L356.35 341.91 L357.1 341.91 L357.1 341.79 L357.85 341.79 L357.85 341.94 L358.6 341.94 L358.6 342.08 L359.35 342.08 L359.35 341.61 L360.1 341.61 L360.1 341.62 L360.85 341.62 L360.85 341.73 L361.6 341.73 L361.6 341.49 L362.35 341.49 L362.35 341.66 L363.1 341.66 L363.1 341.59 L363.85 341.59 L363.85 341.47 L364.6 341.47 L364.6 341.35 L365.35 341.35 L365.35 340.55 L366.1 340.55 L366.1 339.37 L366.85 339.37 L366.85 340.1 L367.6 340.1 L367.6 339.5 L368.35 339.5 L368.35 339.46 L369.1 339.46 L369.1 339.34 L369.85 339.34 L369.85 339.65 L370.6 339.65 L370.6 339.57 L371.35 339.57 L371.35 339.13 L372.1 339.13 L372.1 338.95 L372.85 338.95 L372.85 338.62 L373.6 338.62 L373.6 339.18 L374.35 339.18 L374.35 338.67 L375.1 338.67 L375.1 338.93 L375.85 338.93 L375.85 338.79 L376.6 338.79 L376.6 338.78 L377.35 338.78 L377.35 338.8 L378.1 338.8 L378.1 338.68 L378.85 338.68 L378.85 338.58 L379.6 338.58 L379.6 338.92 L380.35 338.92 L380.35 339.05 L381.1 339.05 L381.1 338.76 L381.85 338.76 L381.85 338.21 L382.6 338.21 L382.6 338.43 L383.35 338.43 L383.35 337.72 L384.1 337.72 L384.1 337.83 L384.85 337.83 L384.85 337.99 L385.6 337.99 L385.6 337.88 L386.35 337.88 L386.35 337.32 L387.1 337.32 L387.1 337.29 L387.85 337.29 L387.85 335.71 L388.6 335.71 L388.6 334.51 L389.35 334.51 L389.35 333.36 L390.1 333.36 L390.1 332.79 L390.85 332.79 L390.85 331.27 L391.6 331.27 L391.6 330.27 L392.35 330.27 L392.35 330.46 L393.1 330.46 L393.1 330.4 L393.85 330.4 L393.85 330.2 L394.6 330.2 L394.6 330.5 L395.35 330.5 L395.35 329.42 L396.1 329.42 L396.1 327.34 L396.85 327.34 L396.85 326.2 L397.6 326.2 L397.6 322.61 L398.35 322.61 L398.35 321.55 L399.1 321.55 L399.1 319.83 L399.85 319.83 L399.85 317.24 L400.6 317.24 L400.6 313.8 L401.35 313.8 L401.35 312.14 L402.1 312.14 L402.1 307.43 L402.85 307.43 L402.85 302.2 L403.6 302.2 L403.6 296.86 L404.35 296.86 L404.35 295.9 L405.1 295.9 L405.1 289.36 L405.85 289.36 L405.85 286.57 L406.6 286.57 L406.6 284.53 L407.35 284.53 L407.35 282.94 L408.1 282.94 L408.1 282.52 L408.85 282.52 L408.85 279.86 L409.6 279.86 L409.6 278.58 L410.35 278.58 L410.35 277.1 L411.1 277.1 L411.1 276.43 L411.85 276.43 L411.85 274.78 L412.6 274.78 L412.6 274.81 L413.35 274.81 L413.35 275.5 L414.1 275.5 L414.1 276.19 L414.85 276.19 L414.85 276.36 L415.6 276.36 L415.6 273.29 L416.35 273.29 L416.35 272.06 L417.1 272.06 L417.1 270.78 L417.85 270.78 L417.85 266.67 L418.6 266.67 L418.6 266.78 L419.35 266.78 L419.35 268.46 L420.1 268.46 L420.1 269.91 L420.85 269.91 L420.85 277.16 L421.6 277.16 L421.6 281.44 L422.35 281.44 L422.35 281.86 L423.1 281.86 L423.1 280.98 L423.85 280.98 L423.85 279.35 L424.6 279.35 L424.6 276.98 L425.35 276.98 L425.35 275.34 L426.1 275.34 L426.1 279.64 L426.85 279.64 L426.85 284.39 L427.6 284.39 L427.6 288.12 L428.35 288.12 L428.35 289.85 L429.1 289.85 L429.1 291.23 L429.85 291.23 L429.85 295.48 L430.6 295.48 L430.6 302.66 L431.35 302.66 L431.35 306.95 L432.1 306.95 L432.1 310.23 L432.85 310.23 L432.85 311.34 L433.6 311.34 L433.6 317.57 L434.35 317.57 L434.35 319.17 L435.1 319.17 L435.1 324 L435.85 324 L435.85 327.78 L436.6 327.78 L436.6 329.73 L437.35 329.73 L437.35 330.48 L438.1 330.48 L438.1 333.07 L438.85 333.07 L438.85 334.31 L439.6 334.31 L439.6 335.59 L440.35 335.59 L440.35 337.32 L441.1 337.32 L441.1 338.2 L441.85 338.2 L441.85 337.98 L442.6 337.98 L442.6 338.94 L443.35 338.94 L443.35 339.77 L444.1 339.77 L444.1 339.84 L444.85 339.84 L444.85 340.98 L445.6 340.98 L445.6 341.3 L446.35 341.3 L446.35 341.25 L447.1 341.25 L447.1 341.33 L447.85 341.33 L447.85 342 L448.6 342 L448.6 341.95 L449.35 341.95 L449.35 341.92 L450 341.92 L508 341.92 L508 345.1 Z" fill="#000"/><rect x="322.6" y="343.2" width="185.4" height="2.1" fill="#000"/><path d="M328.6 340.3 L332 336.9 L335.4 328.3 L338 314.6 L340.6 294 L342.3 275.1 L344 264.9 L345.7 252.9 L347.4 244.3 L349.5 236.6 L350.9 234 L352.2 239.1 L353.8 237.4 L354.8 233.1 L356 244.3 L357.7 270 L359.4 290.6 L361.1 306 L362.9 321.4 L365.4 331.7 L367.1 339.4" fill="none" stroke="#888" stroke-width="0.8" opacity="0.5"/><path d="M328.6 340.3 L332 336.9 L335.4 328.3 L338 314.6 L340.6 294 L342.3 275.1 L344 264.9 L345.7 252.9 L347.4 244.3 L349.5 236.6 L350.9 234 L352.2 239.1 L353.8 237.4 L354.8 233.1 L356 244.3 L357.7 270 L359.4 290.6 L361.1 306 L362.9 321.4 L365.4 331.7 L367.1 339.4" fill="none" stroke="#333" stroke-width="1.05" stroke-dasharray="3 1.6"/><path d="M347.4 244.3 L349.5 236.6 L350.9 234 L352.2 239.1 L353.8 237.4 L354.8 233.1 L356 244.3" fill="none" stroke="#111" stroke-width="1.6" stroke-dasharray="3.5 1.8" stroke-linejoin="round"/><path d="M319.1 214.6 H508 V344.8" fill="none" stroke="#111" stroke-width="1.4"/><path d="M322.6 213.9 V345.3" fill="none" stroke="#000" stroke-width="1.35"/><path d="M315.8 344.8 H322.6" stroke="#000" stroke-width="1.3"/><text x="312.4" y="349.8" font-size="14" text-anchor="end" font-family='"Liberation Sans", sans-serif' fill="#000">0</text><path d="M319 325.92 H322.6" stroke="#000" stroke-width="1.3"/><path d="M315.8 307.04 H322.6" stroke="#000" stroke-width="1.3"/><text x="312.4" y="312.04" font-size="14" text-anchor="end" font-family='"Liberation Sans", sans-serif' fill="#000">40</text><path d="M319 288.16 H322.6" stroke="#000" stroke-width="1.3"/><path d="M315.8 269.28 H322.6" stroke="#000" stroke-width="1.3"/><text x="312.4" y="274.28" font-size="14" text-anchor="end" font-family='"Liberation Sans", sans-serif' fill="#000">80</text><path d="M319 250.4 H322.6" stroke="#000" stroke-width="1.3"/><path d="M315.8 231.52 H322.6" stroke="#000" stroke-width="1.3"/><text x="312.4" y="236.52" font-size="14" text-anchor="end" font-family='"Liberation Sans", sans-serif' fill="#000">120</text><path d="M322.6 344.8 V352.2" stroke="#000" stroke-width="1.35"/><path d="M336.33 344.8 V349.1" stroke="#000" stroke-width="1.3"/><path d="M344.37 344.8 V349.1" stroke="#000" stroke-width="1.3"/><path d="M350.07 344.8 V349.1" stroke="#000" stroke-width="1.3"/><path d="M354.49 344.8 V349.1" stroke="#000" stroke-width="1.3"/><path d="M358.1 344.8 V349.1" stroke="#000" stroke-width="1.3"/><path d="M361.16 344.8 V349.1" stroke="#000" stroke-width="1.3"/><path d="M363.8 344.8 V349.1" stroke="#000" stroke-width="1.3"/><path d="M366.14 344.8 V349.1" stroke="#000" stroke-width="1.3"/><text x="323.6" y="366.3" font-size="13" text-anchor="middle" font-family='"Liberation Sans", sans-serif' fill="#000">10<tspan font-size="9" dy="-4.6">0</tspan></text><path d="M368.23 344.8 V352.2" stroke="#000" stroke-width="1.35"/><path d="M381.96 344.8 V349.1" stroke="#000" stroke-width="1.3"/><path d="M389.99 344.8 V349.1" stroke="#000" stroke-width="1.3"/><path d="M395.69 344.8 V349.1" stroke="#000" stroke-width="1.3"/><path d="M400.12 344.8 V349.1" stroke="#000" stroke-width="1.3"/><path d="M403.73 344.8 V349.1" stroke="#000" stroke-width="1.3"/><path d="M406.78 344.8 V349.1" stroke="#000" stroke-width="1.3"/><path d="M409.43 344.8 V349.1" stroke="#000" stroke-width="1.3"/><path d="M411.76 344.8 V349.1" stroke="#000" stroke-width="1.3"/><text x="369.23" y="366.3" font-size="13" text-anchor="middle" font-family='"Liberation Sans", sans-serif' fill="#000">10<tspan font-size="9" dy="-4.6">1</tspan></text><path d="M413.85 344.8 V352.2" stroke="#000" stroke-width="1.35"/><path d="M427.58 344.8 V349.1" stroke="#000" stroke-width="1.3"/><path d="M435.62 344.8 V349.1" stroke="#000" stroke-width="1.3"/><path d="M441.32 344.8 V349.1" stroke="#000" stroke-width="1.3"/><path d="M445.74 344.8 V349.1" stroke="#000" stroke-width="1.3"/><path d="M449.35 344.8 V349.1" stroke="#000" stroke-width="1.3"/><path d="M452.41 344.8 V349.1" stroke="#000" stroke-width="1.3"/><path d="M455.05 344.8 V349.1" stroke="#000" stroke-width="1.3"/><path d="M457.39 344.8 V349.1" stroke="#000" stroke-width="1.3"/><text x="414.85" y="366.3" font-size="13" text-anchor="middle" font-family='"Liberation Sans", sans-serif' fill="#000">10<tspan font-size="9" dy="-4.6">2</tspan></text><path d="M459.48 344.8 V352.2" stroke="#000" stroke-width="1.35"/><path d="M473.21 344.8 V349.1" stroke="#000" stroke-width="1.3"/><path d="M481.24 344.8 V349.1" stroke="#000" stroke-width="1.3"/><path d="M486.94 344.8 V349.1" stroke="#000" stroke-width="1.3"/><path d="M491.37 344.8 V349.1" stroke="#000" stroke-width="1.3"/><path d="M494.98 344.8 V349.1" stroke="#000" stroke-width="1.3"/><path d="M498.03 344.8 V349.1" stroke="#000" stroke-width="1.3"/><path d="M500.68 344.8 V349.1" stroke="#000" stroke-width="1.3"/><path d="M503.01 344.8 V349.1" stroke="#000" stroke-width="1.3"/><text x="460.48" y="366.3" font-size="13" text-anchor="middle" font-family='"Liberation Sans", sans-serif' fill="#000">10<tspan font-size="9" dy="-4.6">3</tspan></text><path d="M505.1 344.8 V352.2" stroke="#000" stroke-width="1.35"/><text x="506.1" y="366.3" font-size="13" text-anchor="middle" font-family='"Liberation Sans", sans-serif' fill="#000">10<tspan font-size="9" dy="-4.6">4</tspan></text><text x="415.83" y="207.4" font-size="15.8" font-weight="bold" text-anchor="middle" letter-spacing="0.45" font-family='"Liberation Sans", sans-serif' fill="#000">CD34/GCSFR</text></g>
<text transform="translate(14.6,185.3) rotate(-90)" font-size="16.45" text-anchor="middle" font-family='"Liberation Sans", sans-serif' fill="#000">Relative Number of Cells</text>
<text x="283.2" y="391.5" font-size="16.5" text-anchor="middle" font-family='"Liberation Sans", sans-serif' fill="#000">Log Fluorescence Intensity</text>
<defs><linearGradient id="lg0" gradientUnits="userSpaceOnUse" x1="0" y1="541" x2="0" y2="731"><stop offset="0" stop-color="#cacaca"/><stop offset="0.01" stop-color="#c9c9c9"/><stop offset="0.01" stop-color="#c9c9c9"/><stop offset="0.02" stop-color="#c8c8c8"/><stop offset="0.02" stop-color="#c8c8c8"/><stop offset="0.03" stop-color="#c7c7c7"/><stop offset="0.03" stop-color="#c6c6c6"/><stop offset="0.04" stop-color="#c6c6c6"/><stop offset="0.04" stop-color="#c5c5c5"/><stop offset="0.05" stop-color="#c4c4c4"/><stop offset="0.05" stop-color="#c4c4c4"/><stop offset="0.06" stop-color="#c3c3c3"/><stop offset="0.06" stop-color="#c3c3c3"/><stop offset="0.07" stop-color="#c2c2c2"/><stop offset="0.07" stop-color="#c1c1c1"/><stop offset="0.08" stop-color="#c1c1c1"/><stop offset="0.08" stop-color="#c0c0c0"/><stop offset="0.09" stop-color="#c0c0c0"/><stop offset="0.09" stop-color="#bfbfbf"/><stop offset="0.1" stop-color="#bebebe"/><stop offset="0.11" stop-color="#bebebe"/><stop offset="0.11" stop-color="#bdbdbd"/><stop offset="0.12" stop-color="#bdbdbd"/><stop offset="0.12" stop-color="#bcbcbc"/><stop offset="0.13" stop-color="#bbbbbb"/><stop offset="0.13" stop-color="#bbbbbb"/><stop offset="0.14" stop-color="#bababa"/><stop offset="0.14" stop-color="#b9b9b9"/><stop offset="0.15" stop-color="#b9b9b9"/><stop offset="0.15" stop-color="#b8b8b8"/><stop offset="0.16" stop-color="#b8b8b8"/><stop offset="0.16" stop-color="#b7b7b7"/><stop offset="0.17" stop-color="#b6b6b6"/><stop offset="0.17" stop-color="#b6b6b6"/><stop offset="0.18" stop-color="#b5b5b5"/><stop offset="0.18" stop-color="#b5b5b5"/><stop offset="0.19" stop-color="#b4b4b4"/><stop offset="0.19" stop-color="#b3b3b3"/><stop offset="0.2" stop-color="#b3b3b3"/><stop offset="0.21" stop-color="#b2b2b2"/><stop offset="0.21" stop-color="#b2b2b2"/><stop offset="0.22" stop-color="#b1b1b1"/><stop offset="0.22" stop-color="#b0b0b0"/><stop offset="0.23" stop-color="#b0b0b0"/><stop offset="0.23" stop-color="#afafaf"/><stop offset="0.24" stop-color="#aeaeae"/><stop offset="0.24" stop-color="#aeaeae"/><stop offset="0.25" stop-color="#adadad"/><stop offset="0.25" stop-color="#adadad"/><stop offset="0.26" stop-color="#9d9d9d"/><stop offset="0.26" stop-color="#9d9d9d"/><stop offset="0.27" stop-color="#9d9d9d"/><stop offset="0.27" stop-color="#9d9d9d"/><stop offset="0.28" stop-color="#9d9d9d"/><stop offset="0.28" stop-color="#9d9d9d"/><stop offset="0.29" stop-color="#9d9d9d"/><stop offset="0.29" stop-color="#9d9d9d"/><stop offset="0.3" stop-color="#9d9d9d"/><stop offset="0.31" stop-color="#9d9d9d"/><stop offset="0.31" stop-color="#9d9d9d"/><stop offset="0.32" stop-color="#9d9d9d"/><stop offset="0.32" stop-color="#9d9d9d"/><stop offset="0.33" stop-color="#9d9d9d"/><stop offset="0.33" stop-color="#9d9d9d"/><stop offset="0.34" stop-color="#9d9d9d"/><stop offset="0.34" stop-color="#9d9d9d"/><stop offset="0.35" stop-color="#9c9c9c"/><stop offset="0.35" stop-color="#9a9a9a"/><stop offset="0.36" stop-color="#949494"/><stop offset="0.36" stop-color="#8b8b8b"/><stop offset="0.37" stop-color="#7f7f7f"/><stop offset="0.37" stop-color="#767676"/><stop offset="0.38" stop-color="#767676"/><stop offset="0.38" stop-color="#7f7f7f"/><stop offset="0.39" stop-color="#8b8b8b"/><stop offset="0.39" stop-color="#959595"/><stop offset="0.4" stop-color="#9c9c9c"/><stop offset="0.41" stop-color="#a0a0a0"/><stop offset="0.41" stop-color="#a2a2a2"/><stop offset="0.42" stop-color="#a3a3a3"/><stop offset="0.42" stop-color="#a2a2a2"/><stop offset="0.43" stop-color="#9e9e9e"/><stop offset="0.43" stop-color="#999999"/><stop offset="0.44" stop-color="#969696"/><stop offset="0.44" stop-color="#989898"/><stop offset="0.45" stop-color="#9c9c9c"/><stop offset="0.45" stop-color="#9d9d9d"/><stop offset="0.46" stop-color="#9d9d9d"/><stop offset="0.46" stop-color="#9d9d9d"/><stop offset="0.47" stop-color="#9d9d9d"/><stop offset="0.47" stop-color="#9c9c9c"/><stop offset="0.48" stop-color="#989898"/><stop offset="0.48" stop-color="#979797"/><stop offset="0.49" stop-color="#9a9a9a"/><stop offset="0.49" stop-color="#9a9a9a"/><stop offset="0.5" stop-color="#969696"/><stop offset="0.51" stop-color="#939393"/><stop offset="0.51" stop-color="#969696"/><stop offset="0.52" stop-color="#9a9a9a"/><stop offset="0.52" stop-color="#999999"/><stop offset="0.53" stop-color="#969696"/><stop offset="0.53" stop-color="#969696"/><stop offset="0.54" stop-color="#999999"/><stop offset="0.54" stop-color="#9a9a9a"/><stop offset="0.55" stop-color="#979797"/><stop offset="0.55" stop-color="#919191"/><stop offset="0.56" stop-color="#8e8e8e"/><stop offset="0.56" stop-color="#919191"/><stop offset="0.57" stop-color="#979797"/><stop offset="0.57" stop-color="#9c9c9c"/><stop offset="0.58" stop-color="#9f9f9f"/><stop offset="0.58" stop-color="#a1a1a1"/><stop offset="0.59" stop-color="#a0a0a0"/><stop offset="0.59" stop-color="#9e9e9e"/><stop offset="0.6" stop-color="#9a9a9a"/><stop offset="0.61" stop-color="#979797"/><stop offset="0.61" stop-color="#949494"/><stop offset="0.62" stop-color="#919191"/><stop offset="0.62" stop-color="#8e8e8e"/><stop offset="0.63" stop-color="#8c8c8c"/><stop offset="0.63" stop-color="#8b8b8b"/><stop offset="0.64" stop-color="#8c8c8c"/><stop offset="0.64" stop-color="#8e8e8e"/><stop offset="0.65" stop-color="#919191"/><stop offset="0.65" stop-color="#949494"/><stop offset="0.66" stop-color="#979797"/><stop offset="0.66" stop-color="#9a9a9a"/><stop offset="0.67" stop-color="#9e9e9e"/><stop offset="0.67" stop-color="#a1a1a1"/><stop offset="0.68" stop-color="#9f9f9f"/><stop offset="0.68" stop-color="#999999"/><stop offset="0.69" stop-color="#8f8f8f"/><stop offset="0.69" stop-color="#868686"/><stop offset="0.7" stop-color="#868686"/><stop offset="0.71" stop-color="#8f8f8f"/><stop offset="0.71" stop-color="#999999"/><stop offset="0.72" stop-color="#9f9f9f"/><stop offset="0.72" stop-color="#a2a2a2"/><stop offset="0.73" stop-color="#a1a1a1"/><stop offset="0.73" stop-color="#9e9e9e"/><stop offset="0.74" stop-color="#9d9d9d"/><stop offset="0.74" stop-color="#9d9d9d"/><stop offset="0.75" stop-color="#9d9d9d"/><stop offset="0.75" stop-color="#9d9d9d"/><stop offset="0.76" stop-color="#9b9b9b"/><stop offset="0.76" stop-color="#909090"/><stop offset="0.77" stop-color="#797979"/><stop offset="0.77" stop-color="#636363"/><stop offset="0.78" stop-color="#696969"/><stop offset="0.78" stop-color="#858585"/><stop offset="0.79" stop-color="#999999"/><stop offset="0.79" stop-color="#a1a1a1"/><stop offset="0.8" stop-color="#a2a2a2"/><stop offset="0.81" stop-color="#a0a0a0"/><stop offset="0.81" stop-color="#9e9e9e"/><stop offset="0.82" stop-color="#9b9b9b"/><stop offset="0.82" stop-color="#959595"/><stop offset="0.83" stop-color="#8f8f8f"/><stop offset="0.83" stop-color="#8f8f8f"/><stop offset="0.84" stop-color="#969696"/><stop offset="0.84" stop-color="#9c9c9c"/><stop offset="0.85" stop-color="#9f9f9f"/><stop offset="0.85" stop-color="#a0a0a0"/><stop offset="0.86" stop-color="#a1a1a1"/><stop offset="0.86" stop-color="#a0a0a0"/><stop offset="0.87" stop-color="#9e9e9e"/><stop offset="0.87" stop-color="#999999"/><stop offset="0.88" stop-color="#929292"/><stop offset="0.88" stop-color="#8e8e8e"/><stop offset="0.89" stop-color="#919191"/><stop offset="0.89" stop-color="#989898"/><stop offset="0.9" stop-color="#9b9b9b"/><stop offset="0.91" stop-color="#9d9d9d"/><stop offset="0.91" stop-color="#9b9b9b"/><stop offset="0.92" stop-color="#969696"/><stop offset="0.92" stop-color="#898989"/><stop offset="0.93" stop-color="#7c7c7c"/><stop offset="0.93" stop-color="#7d7d7d"/><stop offset="0.94" stop-color="#8b8b8b"/><stop offset="0.94" stop-color="#999999"/><stop offset="0.95" stop-color="#a0a0a0"/><stop offset="0.95" stop-color="#a2a2a2"/><stop offset="0.96" stop-color="#a1a1a1"/><stop offset="0.96" stop-color="#9f9f9f"/><stop offset="0.97" stop-color="#9a9a9a"/><stop offset="0.97" stop-color="#919191"/><stop offset="0.98" stop-color="#8b8b8b"/><stop offset="0.98" stop-color="#909090"/><stop offset="0.99" stop-color="#999999"/><stop offset="0.99" stop-color="#9c9c9c"/><stop offset="1" stop-color="#9d9d9d"/></linearGradient><linearGradient id="lg1" gradientUnits="userSpaceOnUse" x1="0" y1="541" x2="0" y2="731"><stop offset="0" stop-color="#cccccc"/><stop offset="0.01" stop-color="#cbcbcb"/><stop offset="0.01" stop-color="#cacaca"/><stop offset="0.02" stop-color="#cacaca"/><stop offset="0.02" stop-color="#c9c9c9"/><stop offset="0.03" stop-color="#c8c8c8"/><stop offset="0.03" stop-color="#c7c7c7"/><stop offset="0.04" stop-color="#c6c6c6"/><stop offset="0.04" stop-color="#c6c6c6"/><stop offset="0.05" stop-color="#c5c5c5"/><stop offset="0.05" stop-color="#c4c4c4"/><stop offset="0.06" stop-color="#c3c3c3"/><stop offset="0.06" stop-color="#c2c2c2"/><stop offset="0.07" stop-color="#c2c2c2"/><stop offset="0.07" stop-color="#c1c1c1"/><stop offset="0.08" stop-color="#c0c0c0"/><stop offset="0.08" stop-color="#bfbfbf"/><stop offset="0.09" stop-color="#bebebe"/><stop offset="0.09" stop-color="#bebebe"/><stop offset="0.1" stop-color="#bdbdbd"/><stop offset="0.11" stop-color="#bcbcbc"/><stop offset="0.11" stop-color="#bbbbbb"/><stop offset="0.12" stop-color="#bababa"/><stop offset="0.12" stop-color="#bababa"/><stop offset="0.13" stop-color="#b9b9b9"/><stop offset="0.13" stop-color="#b8b8b8"/><stop offset="0.14" stop-color="#b7b7b7"/><stop offset="0.14" stop-color="#b6b6b6"/><stop offset="0.15" stop-color="#b6b6b6"/><stop offset="0.15" stop-color="#b5b5b5"/><stop offset="0.16" stop-color="#b4b4b4"/><stop offset="0.16" stop-color="#b3b3b3"/><stop offset="0.17" stop-color="#b2b2b2"/><stop offset="0.17" stop-color="#b2b2b2"/><stop offset="0.18" stop-color="#b1b1b1"/><stop offset="0.18" stop-color="#b0b0b0"/><stop offset="0.19" stop-color="#afafaf"/><stop offset="0.19" stop-color="#aeaeae"/><stop offset="0.2" stop-color="#aeaeae"/><stop offset="0.21" stop-color="#adadad"/><stop offset="0.21" stop-color="#acacac"/><stop offset="0.22" stop-color="#ababab"/><stop offset="0.22" stop-color="#aaaaaa"/><stop offset="0.23" stop-color="#aaaaaa"/><stop offset="0.23" stop-color="#a9a9a9"/><stop offset="0.24" stop-color="#9e9e9e"/><stop offset="0.24" stop-color="#9e9e9e"/><stop offset="0.25" stop-color="#9e9e9e"/><stop offset="0.25" stop-color="#9e9e9e"/><stop offset="0.26" stop-color="#9e9e9e"/><stop offset="0.26" stop-color="#9e9e9e"/><stop offset="0.27" stop-color="#9e9e9e"/><stop offset="0.27" stop-color="#9e9e9e"/><stop offset="0.28" stop-color="#9e9e9e"/><stop offset="0.28" stop-color="#9e9e9e"/><stop offset="0.29" stop-color="#9e9e9e"/><stop offset="0.29" stop-color="#9e9e9e"/><stop offset="0.3" stop-color="#9e9e9e"/><stop offset="0.31" stop-color="#9e9e9e"/><stop offset="0.31" stop-color="#9e9e9e"/><stop offset="0.32" stop-color="#9e9e9e"/><stop offset="0.32" stop-color="#9e9e9e"/><stop offset="0.33" stop-color="#9e9e9e"/><stop offset="0.33" stop-color="#9e9e9e"/><stop offset="0.34" stop-color="#9e9e9e"/><stop offset="0.34" stop-color="#9e9e9e"/><stop offset="0.35" stop-color="#9d9d9d"/><stop offset="0.35" stop-color="#9b9b9b"/><stop offset="0.36" stop-color="#959595"/><stop offset="0.36" stop-color="#8c8c8c"/><stop offset="0.37" stop-color="#808080"/><stop offset="0.37" stop-color="#777777"/><stop offset="0.38" stop-color="#777777"/><stop offset="0.38" stop-color="#808080"/><stop offset="0.39" stop-color="#8c8c8c"/><stop offset="0.39" stop-color="#969696"/><stop offset="0.4" stop-color="#9d9d9d"/><stop offset="0.41" stop-color="#a1a1a1"/><stop offset="0.41" stop-color="#a3a3a3"/><stop offset="0.42" stop-color="#a4a4a4"/><stop offset="0.42" stop-color="#a3a3a3"/><stop offset="0.43" stop-color="#9f9f9f"/><stop offset="0.43" stop-color="#9a9a9a"/><stop offset="0.44" stop-color="#979797"/><stop offset="0.44" stop-color="#999999"/><stop offset="0.45" stop-color="#9d9d9d"/><stop offset="0.45" stop-color="#9e9e9e"/><stop offset="0.46" stop-color="#9e9e9e"/><stop offset="0.46" stop-color="#9e9e9e"/><stop offset="0.47" stop-color="#9e9e9e"/><stop offset="0.47" stop-color="#9d9d9d"/><stop offset="0.48" stop-color="#999999"/><stop offset="0.48" stop-color="#989898"/><stop offset="0.49" stop-color="#9b9b9b"/><stop offset="0.49" stop-color="#9b9b9b"/><stop offset="0.5" stop-color="#979797"/><stop offset="0.51" stop-color="#949494"/><stop offset="0.51" stop-color="#979797"/><stop offset="0.52" stop-color="#9b9b9b"/><stop offset="0.52" stop-color="#9a9a9a"/><stop offset="0.53" stop-color="#979797"/><stop offset="0.53" stop-color="#979797"/><stop offset="0.54" stop-color="#9a9a9a"/><stop offset="0.54" stop-color="#9b9b9b"/><stop offset="0.55" stop-color="#989898"/><stop offset="0.55" stop-color="#929292"/><stop offset="0.56" stop-color="#8f8f8f"/><stop offset="0.56" stop-color="#929292"/><stop offset="0.57" stop-color="#989898"/><stop offset="0.57" stop-color="#9d9d9d"/><stop offset="0.58" stop-color="#a0a0a0"/><stop offset="0.58" stop-color="#a2a2a2"/><stop offset="0.59" stop-color="#a1a1a1"/><stop offset="0.59" stop-color="#9f9f9f"/><stop offset="0.6" stop-color="#9b9b9b"/><stop offset="0.61" stop-color="#989898"/><stop offset="0.61" stop-color="#959595"/><stop offset="0.62" stop-color="#929292"/><stop offset="0.62" stop-color="#8f8f8f"/><stop offset="0.63" stop-color="#8d8d8d"/><stop offset="0.63" stop-color="#8c8c8c"/><stop offset="0.64" stop-color="#8d8d8d"/><stop offset="0.64" stop-color="#8f8f8f"/><stop offset="0.65" stop-color="#929292"/><stop offset="0.65" stop-color="#959595"/><stop offset="0.66" stop-color="#989898"/><stop offset="0.66" stop-color="#9b9b9b"/><stop offset="0.67" stop-color="#9f9f9f"/><stop offset="0.67" stop-color="#a2a2a2"/><stop offset="0.68" stop-color="#a0a0a0"/><stop offset="0.68" stop-color="#989898"/><stop offset="0.69" stop-color="#888888"/><stop offset="0.69" stop-color="#747474"/><stop offset="0.7" stop-color="#6d6d6d"/><stop offset="0.71" stop-color="#7c7c7c"/><stop offset="0.71" stop-color="#919191"/><stop offset="0.72" stop-color="#9e9e9e"/><stop offset="0.72" stop-color="#a2a2a2"/><stop offset="0.73" stop-color="#a0a0a0"/><stop offset="0.73" stop-color="#9c9c9c"/><stop offset="0.74" stop-color="#989898"/><stop offset="0.74" stop-color="#969696"/><stop offset="0.75" stop-color="#989898"/><stop offset="0.75" stop-color="#9b9b9b"/><stop offset="0.76" stop-color="#9b9b9b"/><stop offset="0.76" stop-color="#949494"/><stop offset="0.77" stop-color="#838383"/><stop offset="0.77" stop-color="#727272"/><stop offset="0.78" stop-color="#777777"/><stop offset="0.78" stop-color="#8c8c8c"/><stop offset="0.79" stop-color="#9c9c9c"/><stop offset="0.79" stop-color="#a2a2a2"/><stop offset="0.8" stop-color="#a3a3a3"/><stop offset="0.81" stop-color="#a1a1a1"/><stop offset="0.81" stop-color="#9f9f9f"/><stop offset="0.82" stop-color="#9c9c9c"/><stop offset="0.82" stop-color="#969696"/><stop offset="0.83" stop-color="#909090"/><stop offset="0.83" stop-color="#909090"/><stop offset="0.84" stop-color="#979797"/><stop offset="0.84" stop-color="#9d9d9d"/><stop offset="0.85" stop-color="#a0a0a0"/><stop offset="0.85" stop-color="#a1a1a1"/><stop offset="0.86" stop-color="#a2a2a2"/><stop offset="0.86" stop-color="#a1a1a1"/><stop offset="0.87" stop-color="#9f9f9f"/><stop offset="0.87" stop-color="#9a9a9a"/><stop offset="0.88" stop-color="#939393"/><stop offset="0.88" stop-color="#8f8f8f"/><stop offset="0.89" stop-color="#929292"/><stop offset="0.89" stop-color="#999999"/><stop offset="0.9" stop-color="#9c9c9c"/><stop offset="0.91" stop-color="#9d9d9d"/><stop offset="0.91" stop-color="#9b9b9b"/><stop offset="0.92" stop-color="#929292"/><stop offset="0.92" stop-color="#7c7c7c"/><stop offset="0.93" stop-color="#666666"/><stop offset="0.93" stop-color="#666666"/><stop offset="0.94" stop-color="#7e7e7e"/><stop offset="0.94" stop-color="#959595"/><stop offset="0.95" stop-color="#a0a0a0"/><stop offset="0.95" stop-color="#a3a3a3"/><stop offset="0.96" stop-color="#a2a2a2"/><stop offset="0.96" stop-color="#a0a0a0"/><stop offset="0.97" stop-color="#9b9b9b"/><stop offset="0.97" stop-color="#929292"/><stop offset="0.98" stop-color="#8c8c8c"/><stop offset="0.98" stop-color="#919191"/><stop offset="0.99" stop-color="#9a9a9a"/><stop offset="0.99" stop-color="#9d9d9d"/><stop offset="1" stop-color="#9e9e9e"/></linearGradient><linearGradient id="lg2" gradientUnits="userSpaceOnUse" x1="0" y1="541" x2="0" y2="731"><stop offset="0" stop-color="#cccccc"/><stop offset="0.01" stop-color="#cccccc"/><stop offset="0.01" stop-color="#cccccc"/><stop offset="0.02" stop-color="#cccccc"/><stop offset="0.02" stop-color="#cccccc"/><stop offset="0.03" stop-color="#cccccc"/><stop offset="0.03" stop-color="#cccccc"/><stop offset="0.04" stop-color="#cccccc"/><stop offset="0.04" stop-color="#cccccc"/><stop offset="0.05" stop-color="#cccccc"/><stop offset="0.05" stop-color="#cccccc"/><stop offset="0.06" stop-color="#cccccc"/><stop offset="0.06" stop-color="#cccccc"/><stop offset="0.07" stop-color="#cccccc"/><stop offset="0.07" stop-color="#cccccc"/><stop offset="0.08" stop-color="#cccccc"/><stop offset="0.08" stop-color="#cccccc"/><stop offset="0.09" stop-color="#cccccc"/><stop offset="0.09" stop-color="#cccccc"/><stop offset="0.1" stop-color="#cccccc"/><stop offset="0.11" stop-color="#cccccc"/><stop offset="0.11" stop-color="#cccccc"/><stop offset="0.12" stop-color="#cccccc"/><stop offset="0.12" stop-color="#cccccc"/><stop offset="0.13" stop-color="#cccccc"/><stop offset="0.13" stop-color="#cccccc"/><stop offset="0.14" stop-color="#cccccc"/><stop offset="0.14" stop-color="#cccccc"/><stop offset="0.15" stop-color="#cccccc"/><stop offset="0.15" stop-color="#cccccc"/><stop offset="0.16" stop-color="#cccccc"/><stop offset="0.16" stop-color="#cccccc"/><stop offset="0.17" stop-color="#cccccc"/><stop offset="0.17" stop-color="#cccccc"/><stop offset="0.18" stop-color="#cccccc"/><stop offset="0.18" stop-color="#cccccc"/><stop offset="0.19" stop-color="#cccccc"/><stop offset="0.19" stop-color="#cccccc"/><stop offset="0.2" stop-color="#cccccc"/><stop offset="0.21" stop-color="#cccccc"/><stop offset="0.21" stop-color="#cccccc"/><stop offset="0.22" stop-color="#cccccc"/><stop offset="0.22" stop-color="#cccccc"/><stop offset="0.23" stop-color="#cccccc"/><stop offset="0.23" stop-color="#cccccc"/><stop offset="0.24" stop-color="#cccccc"/><stop offset="0.24" stop-color="#cccccc"/><stop offset="0.25" stop-color="#cccccc"/><stop offset="0.25" stop-color="#cccccc"/><stop offset="0.26" stop-color="#cccccc"/><stop offset="0.26" stop-color="#cccccc"/><stop offset="0.27" stop-color="#cccccc"/><stop offset="0.27" stop-color="#cccccc"/><stop offset="0.28" stop-color="#cccccc"/><stop offset="0.28" stop-color="#cccccc"/><stop offset="0.29" stop-color="#cccccc"/><stop offset="0.29" stop-color="#cccccc"/><stop offset="0.3" stop-color="#cccccc"/><stop offset="0.31" stop-color="#cccccc"/><stop offset="0.31" stop-color="#cccccc"/><stop offset="0.32" stop-color="#cccccc"/><stop offset="0.32" stop-color="#cccccc"/><stop offset="0.33" stop-color="#cccccc"/><stop offset="0.33" stop-color="#cccccc"/><stop offset="0.34" stop-color="#cccccc"/><stop offset="0.34" stop-color="#cccccc"/><stop offset="0.35" stop-color="#cbcbcb"/><stop offset="0.35" stop-color="#cbcbcb"/><stop offset="0.36" stop-color="#cbcbcb"/><stop offset="0.36" stop-color="#cacaca"/><stop offset="0.37" stop-color="#cacaca"/><stop offset="0.37" stop-color="#cacaca"/><stop offset="0.38" stop-color="#cacaca"/><stop offset="0.38" stop-color="#c9c9c9"/><stop offset="0.39" stop-color="#c9c9c9"/><stop offset="0.39" stop-color="#c9c9c9"/><stop offset="0.4" stop-color="#c8c8c8"/><stop offset="0.41" stop-color="#c8c8c8"/><stop offset="0.41" stop-color="#c8c8c8"/><stop offset="0.42" stop-color="#c8c8c8"/><stop offset="0.42" stop-color="#c7c7c7"/><stop offset="0.43" stop-color="#c7c7c7"/><stop offset="0.43" stop-color="#c7c7c7"/><stop offset="0.44" stop-color="#c6c6c6"/><stop offset="0.44" stop-color="#c6c6c6"/><stop offset="0.45" stop-color="#c5c5c5"/><stop offset="0.45" stop-color="#c4c4c4"/><stop offset="0.46" stop-color="#c2c2c2"/><stop offset="0.46" stop-color="#c1c1c1"/><stop offset="0.47" stop-color="#c0c0c0"/><stop offset="0.47" stop-color="#bdbdbd"/><stop offset="0.48" stop-color="#b9b9b9"/><stop offset="0.48" stop-color="#b6b6b6"/><stop offset="0.49" stop-color="#b7b7b7"/><stop offset="0.49" stop-color="#b9b9b9"/><stop offset="0.5" stop-color="#b9b9b9"/><stop offset="0.51" stop-color="#b7b7b7"/><stop offset="0.51" stop-color="#b5b5b5"/><stop offset="0.52" stop-color="#b1b1b1"/><stop offset="0.52" stop-color="#aeaeae"/><stop offset="0.53" stop-color="#afafaf"/><stop offset="0.53" stop-color="#b0b0b0"/><stop offset="0.54" stop-color="#b0b0b0"/><stop offset="0.54" stop-color="#aeaeae"/><stop offset="0.55" stop-color="#ababab"/><stop offset="0.55" stop-color="#a6a6a6"/><stop offset="0.56" stop-color="#a4a4a4"/><stop offset="0.56" stop-color="#a4a4a4"/><stop offset="0.57" stop-color="#a6a6a6"/><stop offset="0.57" stop-color="#a7a7a7"/><stop offset="0.58" stop-color="#a7a7a7"/><stop offset="0.58" stop-color="#a5a5a5"/><stop offset="0.59" stop-color="#a4a4a4"/><stop offset="0.59" stop-color="#a3a3a3"/><stop offset="0.6" stop-color="#a0a0a0"/><stop offset="0.61" stop-color="#9f9f9f"/><stop offset="0.61" stop-color="#9e9e9e"/><stop offset="0.62" stop-color="#9d9d9d"/><stop offset="0.62" stop-color="#9c9c9c"/><stop offset="0.63" stop-color="#9c9c9c"/><stop offset="0.63" stop-color="#9c9c9c"/><stop offset="0.64" stop-color="#9d9d9d"/><stop offset="0.64" stop-color="#9e9e9e"/><stop offset="0.65" stop-color="#9f9f9f"/><stop offset="0.65" stop-color="#a0a0a0"/><stop offset="0.66" stop-color="#a0a0a0"/><stop offset="0.66" stop-color="#a1a1a1"/><stop offset="0.67" stop-color="#a1a1a1"/><stop offset="0.67" stop-color="#a0a0a0"/><stop offset="0.68" stop-color="#9b9b9b"/><stop offset="0.68" stop-color="#8d8d8d"/><stop offset="0.69" stop-color="#767676"/><stop offset="0.69" stop-color="#6a6a6a"/><stop offset="0.7" stop-color="#767676"/><stop offset="0.71" stop-color="#8d8d8d"/><stop offset="0.71" stop-color="#9b9b9b"/><stop offset="0.72" stop-color="#a0a0a0"/><stop offset="0.72" stop-color="#a1a1a1"/><stop offset="0.73" stop-color="#a1a1a1"/><stop offset="0.73" stop-color="#a1a1a1"/><stop offset="0.74" stop-color="#a1a1a1"/><stop offset="0.74" stop-color="#a1a1a1"/><stop offset="0.75" stop-color="#a1a1a1"/><stop offset="0.75" stop-color="#a0a0a0"/><stop offset="0.76" stop-color="#9c9c9c"/><stop offset="0.76" stop-color="#8d8d8d"/><stop offset="0.77" stop-color="#707070"/><stop offset="0.77" stop-color="#555555"/><stop offset="0.78" stop-color="#555555"/><stop offset="0.78" stop-color="#707070"/><stop offset="0.79" stop-color="#8d8d8d"/><stop offset="0.79" stop-color="#9c9c9c"/><stop offset="0.8" stop-color="#a0a0a0"/><stop offset="0.81" stop-color="#a1a1a1"/><stop offset="0.81" stop-color="#a1a1a1"/><stop offset="0.82" stop-color="#a1a1a1"/><stop offset="0.82" stop-color="#a0a0a0"/><stop offset="0.83" stop-color="#9b9b9b"/><stop offset="0.83" stop-color="#909090"/><stop offset="0.84" stop-color="#858585"/><stop offset="0.84" stop-color="#858585"/><stop offset="0.85" stop-color="#909090"/><stop offset="0.85" stop-color="#9a9a9a"/><stop offset="0.86" stop-color="#9d9d9d"/><stop offset="0.86" stop-color="#9c9c9c"/><stop offset="0.87" stop-color="#9a9a9a"/><stop offset="0.87" stop-color="#999999"/><stop offset="0.88" stop-color="#9a9a9a"/><stop offset="0.88" stop-color="#9c9c9c"/><stop offset="0.89" stop-color="#9e9e9e"/><stop offset="0.89" stop-color="#9e9e9e"/><stop offset="0.9" stop-color="#9c9c9c"/><stop offset="0.91" stop-color="#979797"/><stop offset="0.91" stop-color="#909090"/><stop offset="0.92" stop-color="#888888"/><stop offset="0.92" stop-color="#818181"/><stop offset="0.93" stop-color="#7e7e7e"/><stop offset="0.93" stop-color="#808080"/><stop offset="0.94" stop-color="#878787"/><stop offset="0.94" stop-color="#8e8e8e"/><stop offset="0.95" stop-color="#939393"/><stop offset="0.95" stop-color="#959595"/><stop offset="0.96" stop-color="#949494"/><stop offset="0.96" stop-color="#929292"/><stop offset="0.97" stop-color="#929292"/><stop offset="0.97" stop-color="#939393"/><stop offset="0.98" stop-color="#969696"/><stop offset="0.98" stop-color="#9a9a9a"/><stop offset="0.99" stop-color="#9d9d9d"/><stop offset="0.99" stop-color="#9f9f9f"/><stop offset="1" stop-color="#a0a0a0"/></linearGradient><linearGradient id="lg3" gradientUnits="userSpaceOnUse" x1="0" y1="541" x2="0" y2="731"><stop offset="0" stop-color="#cacaca"/><stop offset="0.01" stop-color="#cacaca"/><stop offset="0.01" stop-color="#cacaca"/><stop offset="0.02" stop-color="#cacaca"/><stop offset="0.02" stop-color="#cacaca"/><stop offset="0.03" stop-color="#cacaca"/><stop offset="0.03" stop-color="#cacaca"/><stop offset="0.04" stop-color="#cacaca"/><stop offset="0.04" stop-color="#cacaca"/><stop offset="0.05" stop-color="#cacaca"/><stop offset="0.05" stop-color="#cacaca"/><stop offset="0.06" stop-color="#cacaca"/><stop offset="0.06" stop-color="#cacaca"/><stop offset="0.07" stop-color="#cacaca"/><stop offset="0.07" stop-color="#cacaca"/><stop offset="0.08" stop-color="#cacaca"/><stop offset="0.08" stop-color="#cacaca"/><stop offset="0.09" stop-color="#cacaca"/><stop offset="0.09" stop-color="#cacaca"/><stop offset="0.1" stop-color="#cacaca"/><stop offset="0.11" stop-color="#cacaca"/><stop offset="0.11" stop-color="#c9c9c9"/><stop offset="0.12" stop-color="#c9c9c9"/><stop offset="0.12" stop-color="#c9c9c9"/><stop offset="0.13" stop-color="#c9c9c9"/><stop offset="0.13" stop-color="#c8c8c8"/><stop offset="0.14" stop-color="#c8c8c8"/><stop offset="0.14" stop-color="#c8c8c8"/><stop offset="0.15" stop-color="#c8c8c8"/><stop offset="0.15" stop-color="#c7c7c7"/><stop offset="0.16" stop-color="#c7c7c7"/><stop offset="0.16" stop-color="#c7c7c7"/><stop offset="0.17" stop-color="#c7c7c7"/><stop offset="0.17" stop-color="#c6c6c6"/><stop offset="0.18" stop-color="#c6c6c6"/><stop offset="0.18" stop-color="#c6c6c6"/><stop offset="0.19" stop-color="#c6c6c6"/><stop offset="0.19" stop-color="#c5c5c5"/><stop offset="0.2" stop-color="#c5c5c5"/><stop offset="0.21" stop-color="#c5c5c5"/><stop offset="0.21" stop-color="#c5c5c5"/><stop offset="0.22" stop-color="#c4c4c4"/><stop offset="0.22" stop-color="#cacaca"/><stop offset="0.23" stop-color="#cacaca"/><stop offset="0.23" stop-color="#cacaca"/><stop offset="0.24" stop-color="#cacaca"/><stop offset="0.24" stop-color="#cacaca"/><stop offset="0.25" stop-color="#cacaca"/><stop offset="0.25" stop-color="#cacaca"/><stop offset="0.26" stop-color="#cacaca"/><stop offset="0.26" stop-color="#cacaca"/><stop offset="0.27" stop-color="#cacaca"/><stop offset="0.27" stop-color="#cacaca"/><stop offset="0.28" stop-color="#cacaca"/><stop offset="0.28" stop-color="#cacaca"/><stop offset="0.29" stop-color="#c9c9c9"/><stop offset="0.29" stop-color="#c8c8c8"/><stop offset="0.3" stop-color="#c7c7c7"/><stop offset="0.31" stop-color="#c5c5c5"/><stop offset="0.31" stop-color="#c3c3c3"/><stop offset="0.32" stop-color="#c0c0c0"/><stop offset="0.32" stop-color="#bfbfbf"/><stop offset="0.33" stop-color="#bebebe"/><stop offset="0.33" stop-color="#bfbfbf"/><stop offset="0.34" stop-color="#c0c0c0"/><stop offset="0.34" stop-color="#c3c3c3"/><stop offset="0.35" stop-color="#c5c5c5"/><stop offset="0.35" stop-color="#c7c7c7"/><stop offset="0.36" stop-color="#c8c8c8"/><stop offset="0.36" stop-color="#c9c9c9"/><stop offset="0.37" stop-color="#cacaca"/><stop offset="0.37" stop-color="#cacaca"/><stop offset="0.38" stop-color="#cacaca"/><stop offset="0.38" stop-color="#cacaca"/><stop offset="0.39" stop-color="#cacaca"/><stop offset="0.39" stop-color="#cacaca"/><stop offset="0.4" stop-color="#cacaca"/><stop offset="0.41" stop-color="#cacaca"/><stop offset="0.41" stop-color="#cacaca"/><stop offset="0.42" stop-color="#cacaca"/><stop offset="0.42" stop-color="#c9c9c9"/><stop offset="0.43" stop-color="#c8c8c8"/><stop offset="0.43" stop-color="#c7c7c7"/><stop offset="0.44" stop-color="#c6c6c6"/><stop offset="0.44" stop-color="#c5c5c5"/><stop offset="0.45" stop-color="#c6c6c6"/><stop offset="0.45" stop-color="#c7c7c7"/><stop offset="0.46" stop-color="#c8c8c8"/><stop offset="0.46" stop-color="#c9c9c9"/><stop offset="0.47" stop-color="#cacaca"/><stop offset="0.47" stop-color="#cacaca"/><stop offset="0.48" stop-color="#cacaca"/><stop offset="0.48" stop-color="#cacaca"/><stop offset="0.49" stop-color="#cacaca"/><stop offset="0.49" stop-color="#cacaca"/><stop offset="0.5" stop-color="#c9c9c9"/><stop offset="0.51" stop-color="#c8c8c8"/><stop offset="0.51" stop-color="#c7c7c7"/><stop offset="0.52" stop-color="#c6c6c6"/><stop offset="0.52" stop-color="#c5c5c5"/><stop offset="0.53" stop-color="#c6c6c6"/><stop offset="0.53" stop-color="#c7c7c7"/><stop offset="0.54" stop-color="#c8c8c8"/><stop offset="0.54" stop-color="#c9c9c9"/><stop offset="0.55" stop-color="#cacaca"/><stop offset="0.55" stop-color="#cacaca"/><stop offset="0.56" stop-color="#cacaca"/><stop offset="0.56" stop-color="#cacaca"/><stop offset="0.57" stop-color="#cacaca"/><stop offset="0.57" stop-color="#cacaca"/><stop offset="0.58" stop-color="#c9c9c9"/><stop offset="0.58" stop-color="#c9c9c9"/><stop offset="0.59" stop-color="#c8c8c8"/><stop offset="0.59" stop-color="#c6c6c6"/><stop offset="0.6" stop-color="#c6c6c6"/><stop offset="0.61" stop-color="#c6c6c6"/><stop offset="0.61" stop-color="#c8c8c8"/><stop offset="0.62" stop-color="#c9c9c9"/><stop offset="0.62" stop-color="#c9c9c9"/><stop offset="0.63" stop-color="#cacaca"/><stop offset="0.63" stop-color="#cacaca"/><stop offset="0.64" stop-color="#cacaca"/><stop offset="0.64" stop-color="#cacaca"/><stop offset="0.65" stop-color="#c9c9c9"/><stop offset="0.65" stop-color="#c8c8c8"/><stop offset="0.66" stop-color="#c4c4c4"/><stop offset="0.66" stop-color="#bebebe"/><stop offset="0.67" stop-color="#b7b7b7"/><stop offset="0.67" stop-color="#b2b2b2"/><stop offset="0.68" stop-color="#b3b3b3"/><stop offset="0.68" stop-color="#b8b8b8"/><stop offset="0.69" stop-color="#bfbfbf"/><stop offset="0.69" stop-color="#c3c3c3"/><stop offset="0.7" stop-color="#c3c3c3"/><stop offset="0.71" stop-color="#c4c4c4"/><stop offset="0.71" stop-color="#c5c5c5"/><stop offset="0.72" stop-color="#c7c7c7"/><stop offset="0.72" stop-color="#c8c8c8"/><stop offset="0.73" stop-color="#c7c7c7"/><stop offset="0.73" stop-color="#c4c4c4"/><stop offset="0.74" stop-color="#bfbfbf"/><stop offset="0.74" stop-color="#bebebe"/><stop offset="0.75" stop-color="#c0c0c0"/><stop offset="0.75" stop-color="#c1c1c1"/><stop offset="0.76" stop-color="#bfbfbf"/><stop offset="0.76" stop-color="#bababa"/><stop offset="0.77" stop-color="#b6b6b6"/><stop offset="0.77" stop-color="#b8b8b8"/><stop offset="0.78" stop-color="#bebebe"/><stop offset="0.78" stop-color="#c4c4c4"/><stop offset="0.79" stop-color="#c8c8c8"/><stop offset="0.79" stop-color="#c9c9c9"/><stop offset="0.8" stop-color="#cacaca"/><stop offset="0.81" stop-color="#cacaca"/><stop offset="0.81" stop-color="#cacaca"/><stop offset="0.82" stop-color="#c9c9c9"/><stop offset="0.82" stop-color="#c8c8c8"/><stop offset="0.83" stop-color="#c5c5c5"/><stop offset="0.83" stop-color="#c2c2c2"/><stop offset="0.84" stop-color="#bebebe"/><stop offset="0.84" stop-color="#bebebe"/><stop offset="0.85" stop-color="#c2c2c2"/><stop offset="0.85" stop-color="#c5c5c5"/><stop offset="0.86" stop-color="#c8c8c8"/><stop offset="0.86" stop-color="#c9c9c9"/><stop offset="0.87" stop-color="#cacaca"/><stop offset="0.87" stop-color="#c9c9c9"/><stop offset="0.88" stop-color="#c8c8c8"/><stop offset="0.88" stop-color="#c6c6c6"/><stop offset="0.89" stop-color="#c5c5c5"/><stop offset="0.89" stop-color="#c6c6c6"/><stop offset="0.9" stop-color="#c8c8c8"/><stop offset="0.91" stop-color="#c9c9c9"/><stop offset="0.91" stop-color="#cacaca"/><stop offset="0.92" stop-color="#cacaca"/><stop offset="0.92" stop-color="#cacaca"/><stop offset="0.93" stop-color="#cacaca"/><stop offset="0.93" stop-color="#cacaca"/><stop offset="0.94" stop-color="#cacaca"/><stop offset="0.94" stop-color="#cacaca"/><stop offset="0.95" stop-color="#cacaca"/><stop offset="0.95" stop-color="#cacaca"/><stop offset="0.96" stop-color="#cacaca"/><stop offset="0.96" stop-color="#cacaca"/><stop offset="0.97" stop-color="#cacaca"/><stop offset="0.97" stop-color="#cacaca"/><stop offset="0.98" stop-color="#cacaca"/><stop offset="0.98" stop-color="#cacaca"/><stop offset="0.99" stop-color="#cacaca"/><stop offset="0.99" stop-color="#cacaca"/><stop offset="1" stop-color="#cacaca"/></linearGradient><linearGradient id="lg4" gradientUnits="userSpaceOnUse" x1="0" y1="541" x2="0" y2="731"><stop offset="0" stop-color="#cecece"/><stop offset="0.01" stop-color="#cecece"/><stop offset="0.01" stop-color="#cecece"/><stop offset="0.02" stop-color="#cecece"/><stop offset="0.02" stop-color="#cecece"/><stop offset="0.03" stop-color="#cecece"/><stop offset="0.03" stop-color="#cecece"/><stop offset="0.04" stop-color="#cecece"/><stop offset="0.04" stop-color="#cecece"/><stop offset="0.05" stop-color="#cecece"/><stop offset="0.05" stop-color="#cecece"/><stop offset="0.06" stop-color="#cecece"/><stop offset="0.06" stop-color="#cecece"/><stop offset="0.07" stop-color="#cecece"/><stop offset="0.07" stop-color="#cecece"/><stop offset="0.08" stop-color="#cecece"/><stop offset="0.08" stop-color="#cdcdcd"/><stop offset="0.09" stop-color="#cdcdcd"/><stop offset="0.09" stop-color="#cdcdcd"/><stop offset="0.1" stop-color="#cccccc"/><stop offset="0.11" stop-color="#cccccc"/><stop offset="0.11" stop-color="#cccccc"/><stop offset="0.12" stop-color="#cbcbcb"/><stop offset="0.12" stop-color="#cbcbcb"/><stop offset="0.13" stop-color="#cacaca"/><stop offset="0.13" stop-color="#cacaca"/><stop offset="0.14" stop-color="#cacaca"/><stop offset="0.14" stop-color="#c9c9c9"/><stop offset="0.15" stop-color="#c9c9c9"/><stop offset="0.15" stop-color="#c9c9c9"/><stop offset="0.16" stop-color="#c8c8c8"/><stop offset="0.16" stop-color="#c8c8c8"/><stop offset="0.17" stop-color="#c8c8c8"/><stop offset="0.17" stop-color="#c7c7c7"/><stop offset="0.18" stop-color="#c7c7c7"/><stop offset="0.18" stop-color="#c6c6c6"/><stop offset="0.19" stop-color="#c6c6c6"/><stop offset="0.19" stop-color="#c6c6c6"/><stop offset="0.2" stop-color="#c5c5c5"/><stop offset="0.21" stop-color="#c5c5c5"/><stop offset="0.21" stop-color="#c5c5c5"/><stop offset="0.22" stop-color="#c4c4c4"/><stop offset="0.22" stop-color="#cecece"/><stop offset="0.23" stop-color="#cecece"/><stop offset="0.23" stop-color="#cecece"/><stop offset="0.24" stop-color="#cecece"/><stop offset="0.24" stop-color="#cecece"/><stop offset="0.25" stop-color="#cecece"/><stop offset="0.25" stop-color="#cecece"/><stop offset="0.26" stop-color="#cecece"/><stop offset="0.26" stop-color="#cecece"/><stop offset="0.27" stop-color="#cecece"/><stop offset="0.27" stop-color="#cecece"/><stop offset="0.28" stop-color="#cecece"/><stop offset="0.28" stop-color="#cecece"/><stop offset="0.29" stop-color="#cdcdcd"/><stop offset="0.29" stop-color="#cdcdcd"/><stop offset="0.3" stop-color="#cccccc"/><stop offset="0.31" stop-color="#cbcbcb"/><stop offset="0.31" stop-color="#c9c9c9"/><stop offset="0.32" stop-color="#c8c8c8"/><stop offset="0.32" stop-color="#c6c6c6"/><stop offset="0.33" stop-color="#c6c6c6"/><stop offset="0.33" stop-color="#c6c6c6"/><stop offset="0.34" stop-color="#c8c8c8"/><stop offset="0.34" stop-color="#c9c9c9"/><stop offset="0.35" stop-color="#cbcbcb"/><stop offset="0.35" stop-color="#cccccc"/><stop offset="0.36" stop-color="#cdcdcd"/><stop offset="0.36" stop-color="#cdcdcd"/><stop offset="0.37" stop-color="#cecece"/><stop offset="0.37" stop-color="#cecece"/><stop offset="0.38" stop-color="#cecece"/><stop offset="0.38" stop-color="#cecece"/><stop offset="0.39" stop-color="#cecece"/><stop offset="0.39" stop-color="#cecece"/><stop offset="0.4" stop-color="#cecece"/><stop offset="0.41" stop-color="#cecece"/><stop offset="0.41" stop-color="#cecece"/><stop offset="0.42" stop-color="#cecece"/><stop offset="0.42" stop-color="#cecece"/><stop offset="0.43" stop-color="#cecece"/><stop offset="0.43" stop-color="#cecece"/><stop offset="0.44" stop-color="#cecece"/><stop offset="0.44" stop-color="#cecece"/><stop offset="0.45" stop-color="#cecece"/><stop offset="0.45" stop-color="#cecece"/><stop offset="0.46" stop-color="#cecece"/><stop offset="0.46" stop-color="#cecece"/><stop offset="0.47" stop-color="#cecece"/><stop offset="0.47" stop-color="#cecece"/><stop offset="0.48" stop-color="#cecece"/><stop offset="0.48" stop-color="#cecece"/><stop offset="0.49" stop-color="#cecece"/><stop offset="0.49" stop-color="#cecece"/><stop offset="0.5" stop-color="#cecece"/><stop offset="0.51" stop-color="#cecece"/><stop offset="0.51" stop-color="#cecece"/><stop offset="0.52" stop-color="#cecece"/><stop offset="0.52" stop-color="#cecece"/><stop offset="0.53" stop-color="#cecece"/><stop offset="0.53" stop-color="#cecece"/><stop offset="0.54" stop-color="#cecece"/><stop offset="0.54" stop-color="#cecece"/><stop offset="0.55" stop-color="#cecece"/><stop offset="0.55" stop-color="#cecece"/><stop offset="0.56" stop-color="#cecece"/><stop offset="0.56" stop-color="#cecece"/><stop offset="0.57" stop-color="#cecece"/><stop offset="0.57" stop-color="#cecece"/><stop offset="0.58" stop-color="#cecece"/><stop offset="0.58" stop-color="#cecece"/><stop offset="0.59" stop-color="#cecece"/><stop offset="0.59" stop-color="#cecece"/><stop offset="0.6" stop-color="#cecece"/><stop offset="0.61" stop-color="#cecece"/><stop offset="0.61" stop-color="#cecece"/><stop offset="0.62" stop-color="#cecece"/><stop offset="0.62" stop-color="#cecece"/><stop offset="0.63" stop-color="#cecece"/><stop offset="0.63" stop-color="#cecece"/><stop offset="0.64" stop-color="#cecece"/><stop offset="0.64" stop-color="#cecece"/><stop offset="0.65" stop-color="#cecece"/><stop offset="0.65" stop-color="#cdcdcd"/><stop offset="0.66" stop-color="#cbcbcb"/><stop offset="0.66" stop-color="#c7c7c7"/><stop offset="0.67" stop-color="#c3c3c3"/><stop offset="0.67" stop-color="#c0c0c0"/><stop offset="0.68" stop-color="#c1c1c1"/><stop offset="0.68" stop-color="#c4c4c4"/><stop offset="0.69" stop-color="#c8c8c8"/><stop offset="0.69" stop-color="#cbcbcb"/><stop offset="0.7" stop-color="#cdcdcd"/><stop offset="0.71" stop-color="#cecece"/><stop offset="0.71" stop-color="#cecece"/><stop offset="0.72" stop-color="#cecece"/><stop offset="0.72" stop-color="#cecece"/><stop offset="0.73" stop-color="#cccccc"/><stop offset="0.73" stop-color="#cacaca"/><stop offset="0.74" stop-color="#c7c7c7"/><stop offset="0.74" stop-color="#c6c6c6"/><stop offset="0.75" stop-color="#c7c7c7"/><stop offset="0.75" stop-color="#c8c8c8"/><stop offset="0.76" stop-color="#c6c6c6"/><stop offset="0.76" stop-color="#c3c3c3"/><stop offset="0.77" stop-color="#c0c0c0"/><stop offset="0.77" stop-color="#c1c1c1"/><stop offset="0.78" stop-color="#c6c6c6"/><stop offset="0.78" stop-color="#cacaca"/><stop offset="0.79" stop-color="#cccccc"/><stop offset="0.79" stop-color="#cecece"/><stop offset="0.8" stop-color="#cecece"/><stop offset="0.81" stop-color="#cecece"/><stop offset="0.81" stop-color="#cecece"/><stop offset="0.82" stop-color="#cecece"/><stop offset="0.82" stop-color="#cdcdcd"/><stop offset="0.83" stop-color="#cbcbcb"/><stop offset="0.83" stop-color="#c8c8c8"/><stop offset="0.84" stop-color="#c6c6c6"/><stop offset="0.84" stop-color="#c6c6c6"/><stop offset="0.85" stop-color="#c8c8c8"/><stop offset="0.85" stop-color="#cbcbcb"/><stop offset="0.86" stop-color="#cdcdcd"/><stop offset="0.86" stop-color="#cecece"/><stop offset="0.87" stop-color="#cecece"/><stop offset="0.87" stop-color="#cecece"/><stop offset="0.88" stop-color="#cecece"/><stop offset="0.88" stop-color="#cecece"/><stop offset="0.89" stop-color="#cecece"/><stop offset="0.89" stop-color="#cecece"/><stop offset="0.9" stop-color="#cecece"/><stop offset="0.91" stop-color="#cecece"/><stop offset="0.91" stop-color="#cecece"/><stop offset="0.92" stop-color="#cecece"/><stop offset="0.92" stop-color="#cecece"/><stop offset="0.93" stop-color="#cecece"/><stop offset="0.93" stop-color="#cecece"/><stop offset="0.94" stop-color="#cecece"/><stop offset="0.94" stop-color="#cecece"/><stop offset="0.95" stop-color="#cecece"/><stop offset="0.95" stop-color="#cecece"/><stop offset="0.96" stop-color="#cecece"/><stop offset="0.96" stop-color="#cecece"/><stop offset="0.97" stop-color="#cecece"/><stop offset="0.97" stop-color="#cecece"/><stop offset="0.98" stop-color="#cecece"/><stop offset="0.98" stop-color="#cecece"/><stop offset="0.99" stop-color="#cecece"/><stop offset="0.99" stop-color="#cecece"/><stop offset="1" stop-color="#cecece"/></linearGradient><filter id="hb" x="-20%" y="-5%" width="140%" height="110%"><feGaussianBlur stdDeviation="1.0 0.3"/></filter><clipPath id="bc"><rect x="189.6" y="541.5" width="124.9" height="188.5"/></clipPath></defs><g clip-path="url(#bc)"><rect x="189.6" y="541.5" width="124.9" height="188.5" fill="#cfcfcf"/><g filter="url(#hb)"><rect x="191.5" y="536" width="25.2" height="200" fill="url(#lg0)"/><rect x="216.4" y="536" width="21.4" height="200" fill="url(#lg1)"/><rect x="238.5" y="536" width="24.3" height="200" fill="url(#lg2)"/><rect x="262.5" y="536" width="26.3" height="200" fill="url(#lg3)"/><rect x="288.5" y="536" width="26.3" height="200" fill="url(#lg4)"/></g><rect x="189.5" y="536" width="2.2" height="200" fill="#fff" opacity="0.3" filter="url(#b4)"/><rect x="214" y="536" width="3.2" height="200" fill="#fff" opacity="0.22" filter="url(#b4)"/><rect x="235.75" y="536" width="4.5" height="200" fill="#fff" opacity="0.38" filter="url(#b4)"/><rect x="261.1" y="536" width="3.2" height="200" fill="#fff" opacity="0.22" filter="url(#b4)"/><rect x="286.8" y="536" width="3" height="200" fill="#fff" opacity="0.2" filter="url(#b4)"/><rect x="200.5" y="536" width="13" height="44" fill="#8a8a8a" opacity="0.42" filter="url(#b2)"/><rect x="205" y="556" width="8.5" height="16" fill="#707070" opacity="0.45" filter="url(#b2)"/><path d="M191 593 L200 585 L207 574 L212 568 L214 580 L214 592 L191 596 Z" fill="#333" opacity="0.5" filter="url(#b2)"/><rect x="219" y="574" width="15" height="13" fill="#8a8a8a" opacity="0.5" filter="url(#b2)"/><rect x="267" y="576" width="18" height="10" fill="#8c8c8c" opacity="0.35" filter="url(#b2)"/><rect x="297" y="566" width="17" height="20" fill="#9a9a9a" opacity="0.3" filter="url(#b2)"/><path d="M192.5 684 C195 680 199 683 202 681 C205 679 207 680 209 678.5 L209.5 681 C206 683 203 684 199 685.5 C196 686.5 193.5 686 192.5 684 Z" fill="#2a2a2a" opacity="0.55" filter="url(#b4)"/><g filter="url(#b4)" fill="#050505"><path d="M191.8 592 L196 588.5 L200 586 L203 582 L206 576.5 L209 570.5 L211.5 567.5 L213 566.8 L214 574 L215 585 L216.5 590 L218 591 L220 589 L223 587 L226 585 L229 584.5 L233 584 L234.8 588 L235.3 606 L234 609.5 L225 609.8 L217.5 608.6 L212 610.8 L195 610.8 L191.8 609.2 Z"/><path d="M265.6 584.5 L267 583.5 L270 585 L275 586.5 L280 586.3 L284 584.5 L285.8 583.8 L286.2 591 L285.8 597 L280 597.6 L272 597.4 L266 596.8 L265.3 591 Z"/><path d="M290.3 598 L290.3 586 L291.5 576 L292.5 571.2 L294 576 L295.5 582.5 L300 586.5 L305 588.2 L309 587.2 L312 584.5 L315 581.5 L315 599 L310 597.8 L306 597 L300 597.8 L293 598.2 Z"/></g></g><rect x="189.6" y="541.5" width="124.9" height="188.5" fill="none" stroke="#000" stroke-width="1.8"/><path d="M204.2 537 V541.5" stroke="#000" stroke-width="1.3"/><path d="M227 537 V541.5" stroke="#000" stroke-width="1.3"/><path d="M251.1 537 V541.5" stroke="#000" stroke-width="1.3"/><path d="M276.3 537 V541.5" stroke="#000" stroke-width="1.3"/><path d="M301 537 V541.5" stroke="#000" stroke-width="1.3"/><path d="M201.6 730 V738.4" stroke="#000" stroke-width="1.3"/><path d="M225.3 730 V738.4" stroke="#000" stroke-width="1.3"/><path d="M249.8 730 V738.4" stroke="#000" stroke-width="1.3"/><path d="M274.6 730 V738.4" stroke="#000" stroke-width="1.3"/><path d="M301.1 730 V738.4" stroke="#000" stroke-width="1.3"/><text transform="translate(210,531.9) rotate(-90)" font-size="16" letter-spacing="0" font-family='"Liberation Sans", sans-serif' fill="#000">CD34</text><text transform="translate(232.4,531.9) rotate(-90)" font-size="16" letter-spacing="0.22" font-family='"Liberation Sans", sans-serif' fill="#000">CD34/T</text><text transform="translate(257.4,531.9) rotate(-90)" font-size="16" letter-spacing="0" font-family='"Liberation Sans", sans-serif' fill="#000">Vector</text><text transform="translate(282.4,531.9) rotate(-90)" font-size="16" letter-spacing="0.28" font-family='"Liberation Sans", sans-serif' fill="#000">CD34/EPOR</text><text transform="translate(307.4,531.9) rotate(-90)" font-size="16" letter-spacing="0.3" font-family='"Liberation Sans", sans-serif' fill="#000">CD34/GCSFR</text><text x="200.3" y="758.6" font-size="15.8" text-anchor="middle" font-family='"Liberation Sans", sans-serif' fill="#000">1</text><text x="225.5" y="758.6" font-size="15.8" text-anchor="middle" font-family='"Liberation Sans", sans-serif' fill="#000">2</text><text x="250.6" y="758.6" font-size="15.8" text-anchor="middle" font-family='"Liberation Sans", sans-serif' fill="#000">3</text><text x="275" y="758.6" font-size="15.8" text-anchor="middle" font-family='"Liberation Sans", sans-serif' fill="#000">4</text><text x="301" y="758.6" font-size="15.8" text-anchor="middle" font-family='"Liberation Sans", sans-serif' fill="#000">5</text><text x="175.8" y="531.6" font-size="16.2" text-anchor="end" font-family='"Liberation Sans", sans-serif' fill="#000">kD</text><text x="176" y="574.4" font-size="16" text-anchor="end" font-family='"Liberation Sans", sans-serif' fill="#000">250</text><path d="M180 569.8 H186.3" stroke="#000" stroke-width="1.5"/><text x="176" y="617.5" font-size="16" text-anchor="end" font-family='"Liberation Sans", sans-serif' fill="#000">98</text><path d="M180 613.8 H186.3" stroke="#000" stroke-width="1.5"/><text x="176" y="643.5" font-size="16" text-anchor="end" font-family='"Liberation Sans", sans-serif' fill="#000">64</text><path d="M180 639.1 H186.3" stroke="#000" stroke-width="1.5"/><text x="176" y="670.9" font-size="16" text-anchor="end" font-family='"Liberation Sans", sans-serif' fill="#000">50</text><path d="M180 666.4 H186.3" stroke="#000" stroke-width="1.5"/><text x="176" y="709.4" font-size="16" text-anchor="end" font-family='"Liberation Sans", sans-serif' fill="#000">36</text><path d="M180 703.7 H186.3" stroke="#000" stroke-width="1.5"/><text x="77" y="607.4" font-size="16.1" font-family='"Liberation Sans", sans-serif' fill="#000">CD34</text><path d="M123.5 601.8 H147" stroke="#000" stroke-width="1.3"/><path d="M154 601.8 L145.5 598.6 L145.5 605 Z" fill="#000"/><path d="M326 593.1 H348.5" stroke="#000" stroke-width="1.3"/><path d="M318.5 593.1 L327 589.9 L327 596.3 Z" fill="#000"/><text x="351" y="590.8" font-size="16.2" font-family='"Liberation Sans", sans-serif' fill="#000">CD34</text><text x="351" y="607.4" font-size="16.3" font-family='"Liberation Sans", sans-serif' fill="#000">Chimera</text>
</svg>
</body></html>
